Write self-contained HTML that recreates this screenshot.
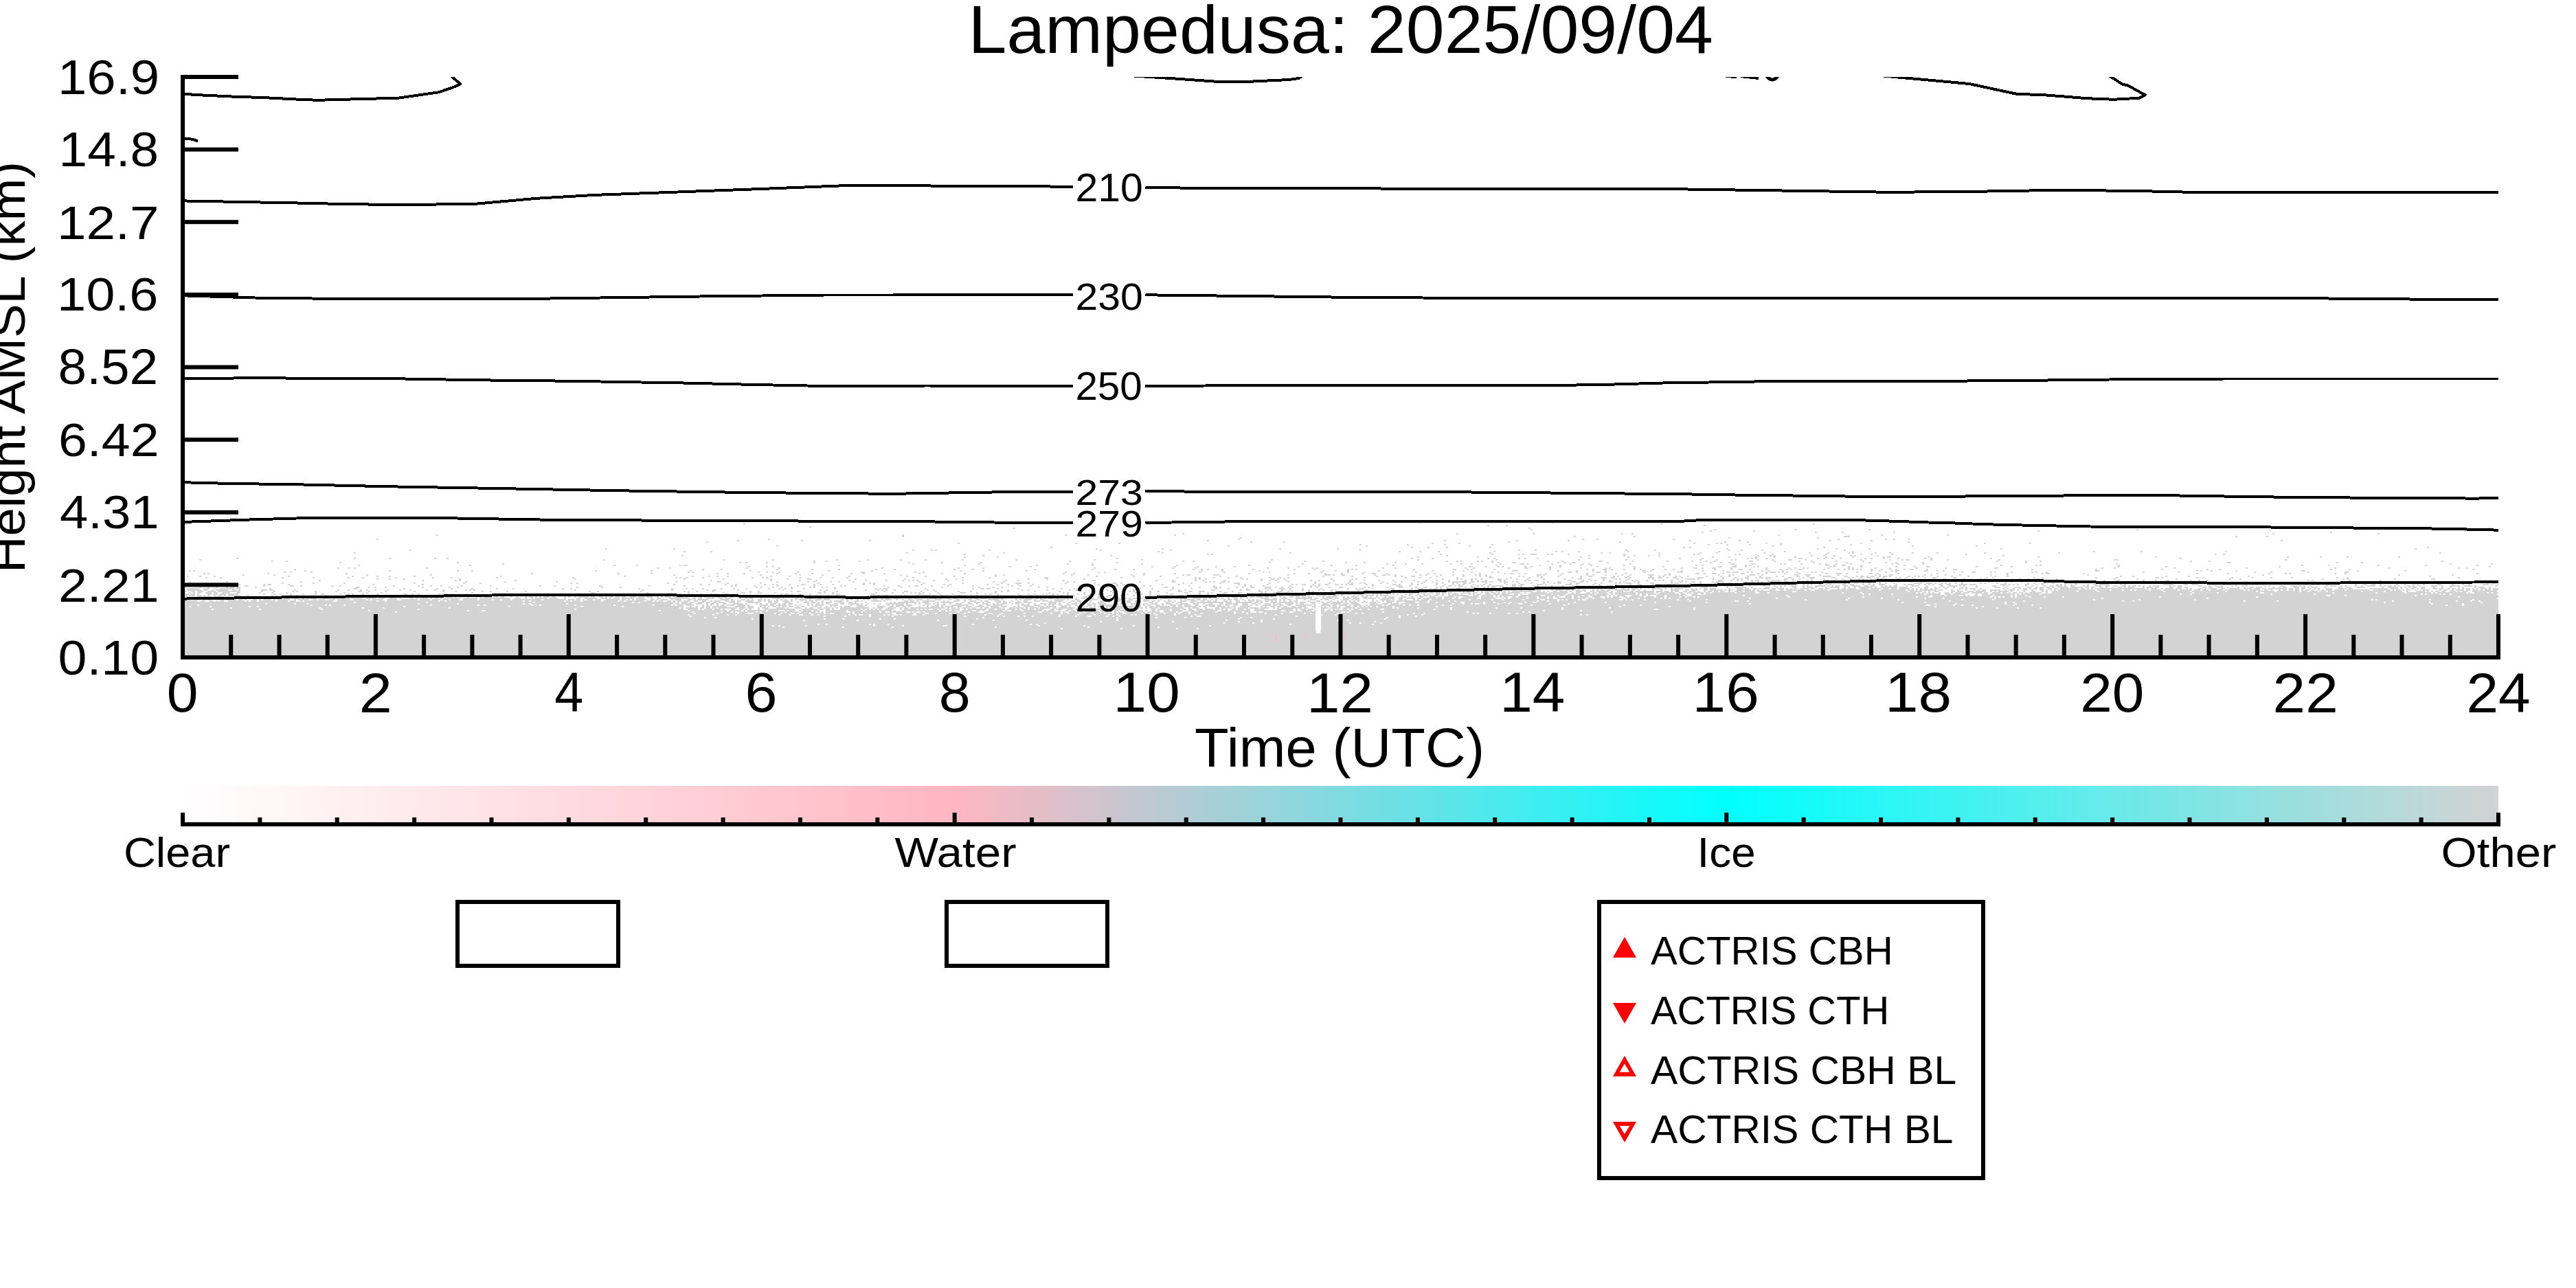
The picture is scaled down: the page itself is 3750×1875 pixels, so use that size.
<!DOCTYPE html><html><head><meta charset="utf-8"><title>Lampedusa 2025/09/04</title><style>html,body{margin:0;padding:0;background:#fff;overflow:hidden}svg{display:block}</style></head><body><svg xmlns="http://www.w3.org/2000/svg" width="3750" height="1875" viewBox="0 0 3750 1875">
<defs>
<clipPath id="pc"><rect x="266" y="112" width="3371" height="845"/></clipPath>
<linearGradient id="cb" x1="0" y1="0" x2="1" y2="0"><stop offset="0" stop-color="#ffffff"/><stop offset="0.3333" stop-color="#ffb6c1"/><stop offset="0.6667" stop-color="#00ffff"/><stop offset="1" stop-color="#d3d3d3"/></linearGradient>
</defs>
<rect width="3750" height="1875" fill="#fff"/>
<g clip-path="url(#pc)">
<path fill="#d3d3d3" d="M2066 760h3v2h-3zM2258 760h3v2h-3zM1082 762h3v2h-3zM1670 762h3v2h-3zM2417 762h3v2h-3zM2639 762h3v2h-3zM2165 764h3v2h-3zM2192 764h3v2h-3zM2480 764h3v2h-3zM1178 766h3v2h-3zM1475 768h3v2h-3zM2225 768h3v2h-3zM3623 768h3v2h-3zM2228 770h3v2h-3zM2495 770h3v2h-3zM2612 770h3v2h-3zM2720 770h3v2h-3zM3110 770h3v2h-3zM2489 772h3v2h-3zM2552 772h3v2h-3zM2966 772h3v2h-3zM3587 772h3v2h-3zM2477 774h3v2h-3zM2642 774h3v2h-3zM2681 774h3v2h-3zM2756 774h3v2h-3zM3392 774h3v2h-3zM1721 776h3v2h-3zM2120 776h3v2h-3zM2231 776h3v2h-3zM2360 776h3v2h-3zM2375 776h3v2h-3zM3308 776h3v2h-3zM3461 776h3v2h-3zM635 778h3v2h-3zM1313 778h3v2h-3zM1550 778h3v2h-3zM1709 778h3v2h-3zM2588 778h3v2h-3zM2738 778h3v2h-3zM2834 778h3v2h-3zM1313 780h3v2h-3zM2291 780h3v2h-3zM2378 780h3v2h-3zM2684 780h9v2h-9zM3254 780h3v2h-3zM3299 780h3v2h-3zM1805 782h3v2h-3zM2516 782h3v2h-3zM2645 782h3v2h-3zM548 784h3v2h-3zM1118 784h3v2h-3zM1802 784h3v2h-3zM2303 784h3v2h-3zM2324 784h3v2h-3zM2435 784h3v2h-3zM2675 784h3v2h-3zM2744 784h3v2h-3zM2756 784h3v2h-3zM2777 784h3v2h-3zM1073 786h3v2h-3zM1166 786h3v2h-3zM1265 786h3v2h-3zM1757 786h3v2h-3zM2102 786h3v2h-3zM2207 786h3v2h-3zM2282 786h3v2h-3zM2459 786h3v2h-3zM2531 786h3v2h-3zM2663 786h3v2h-3zM2723 786h3v2h-3zM3320 786h3v2h-3zM1028 788h3v2h-3zM1820 788h3v2h-3zM1868 788h3v2h-3zM2195 788h3v2h-3zM2357 788h3v2h-3zM2510 788h3v2h-3zM2543 788h3v2h-3zM2777 788h3v2h-3zM1394 790h3v2h-3zM1565 790h3v2h-3zM1628 790h3v2h-3zM2084 790h3v2h-3zM2123 790h3v2h-3zM2465 790h3v2h-3zM2498 790h3v2h-3zM2504 790h3v2h-3zM2570 790h3v2h-3zM2591 790h3v2h-3zM2708 790h3v2h-3zM2888 790h3v2h-3zM2954 790h3v2h-3zM1979 792h3v2h-3zM2048 792h3v2h-3zM2102 792h3v2h-3zM2171 792h3v2h-3zM2486 792h3v2h-3zM2513 792h3v2h-3zM2546 792h3v2h-3zM2591 792h3v2h-3zM2693 792h3v2h-3zM1130 794h3v2h-3zM1787 794h3v2h-3zM1988 794h3v2h-3zM2138 794h3v2h-3zM2579 794h3v2h-3zM2783 794h3v2h-3zM2876 794h3v2h-3zM1529 796h3v2h-3zM2054 796h3v2h-3zM2078 796h3v2h-3zM2105 796h3v2h-3zM2168 796h3v2h-3zM2450 796h3v2h-3zM2459 796h3v2h-3zM2654 796h3v2h-3zM3533 796h3v2h-3zM881 798h3v2h-3zM980 798h3v2h-3zM1595 798h3v2h-3zM1691 798h3v2h-3zM1862 798h3v2h-3zM1946 798h3v2h-3zM2513 798h3v2h-3zM2645 798h3v2h-3zM2672 798h3v2h-3zM2720 798h3v2h-3zM2912 798h3v2h-3zM3515 798h3v2h-3zM596 800h3v2h-3zM1328 800h3v2h-3zM1355 800h3v2h-3zM1361 800h3v2h-3zM1439 800h3v2h-3zM1601 800h3v2h-3zM1703 800h3v2h-3zM1979 800h3v2h-3zM2210 800h3v2h-3zM2234 800h3v2h-3zM2366 800h3v2h-3zM2408 800h3v2h-3zM2516 800h3v2h-3zM2534 800h3v2h-3zM2564 800h3v2h-3zM2684 800h3v2h-3zM995 802h3v2h-3zM1034 802h3v2h-3zM1685 802h3v2h-3zM2036 802h3v2h-3zM2066 802h3v2h-3zM2093 802h3v2h-3zM2174 802h3v2h-3zM2264 802h3v2h-3zM2273 802h3v2h-3zM2297 802h3v2h-3zM2369 802h3v2h-3zM2501 802h3v2h-3zM2597 802h3v2h-3zM2696 802h3v2h-3zM3047 802h3v2h-3zM3116 802h3v2h-3zM3239 802h3v2h-3zM515 804h3v2h-3zM1319 804h3v2h-3zM1460 804h3v2h-3zM1691 804h3v2h-3zM1877 804h3v2h-3zM2168 804h3v2h-3zM2330 804h3v2h-3zM2342 804h3v2h-3zM2414 804h3v2h-3zM2474 804h3v2h-3zM2498 804h3v2h-3zM2567 804h3v2h-3zM2633 804h3v2h-3zM2660 804h3v2h-3zM2690 804h3v2h-3zM2696 804h3v2h-3zM2729 804h3v2h-3zM2750 804h3v2h-3zM2783 804h3v2h-3zM2819 804h3v2h-3zM2888 804h3v2h-3zM2996 804h3v2h-3zM3551 804h3v2h-3zM1403 806h3v2h-3zM1757 806h3v2h-3zM1763 806h3v2h-3zM2096 806h3v2h-3zM2171 806h3v2h-3zM2210 806h3v2h-3zM2216 806h3v2h-3zM2228 806h9v2h-9zM2252 806h3v2h-3zM2258 806h3v2h-3zM2282 806h3v2h-3zM2363 806h3v2h-3zM2465 806h3v2h-3zM2471 806h3v2h-3zM2525 806h3v2h-3zM2531 806h3v2h-3zM2555 806h3v2h-3zM2579 806h3v2h-3zM2657 806h3v2h-3zM2708 806h3v2h-3zM2723 806h3v2h-3zM2753 806h3v2h-3zM2861 806h3v2h-3zM3224 806h3v2h-3zM3236 806h3v2h-3zM992 808h3v2h-3zM1430 808h3v2h-3zM1616 808h3v2h-3zM2105 808h3v2h-3zM2312 808h3v2h-3zM2363 808h3v2h-3zM2378 808h3v2h-3zM2399 808h3v2h-3zM2414 808h3v2h-3zM2558 808h3v2h-3zM2576 808h3v2h-3zM2582 808h3v2h-3zM2636 808h3v2h-3zM2654 808h3v2h-3zM2669 808h3v2h-3zM2693 808h3v2h-3zM2699 808h3v2h-3zM2732 808h3v2h-3zM2915 808h3v2h-3zM1403 810h3v2h-3zM1451 810h3v2h-3zM2063 810h3v2h-3zM2150 810h3v2h-3zM2300 810h3v2h-3zM2369 810h3v2h-3zM2492 810h3v2h-3zM2516 810h3v2h-3zM2555 810h3v2h-3zM2582 810h3v2h-3zM2612 810h3v2h-3zM2657 810h3v2h-3zM2696 810h3v2h-3zM2741 810h3v2h-3zM2747 810h6v2h-6zM2807 810h3v2h-3zM2966 810h3v2h-3zM3137 810h3v2h-3zM3329 810h3v2h-3zM3377 810h3v2h-3zM3416 810h3v2h-3zM3491 810h3v2h-3zM344 812h3v2h-3zM515 812h3v2h-3zM566 812h3v2h-3zM632 812h3v2h-3zM650 812h3v2h-3zM1625 812h3v2h-3zM2054 812h3v2h-3zM2084 812h3v2h-3zM2165 812h3v2h-3zM2174 812h3v2h-3zM2210 812h3v2h-3zM2219 812h3v2h-3zM2237 812h3v2h-3zM2312 812h3v2h-3zM2444 812h3v2h-3zM2477 812h3v2h-3zM2543 812h3v2h-3zM2549 812h3v2h-3zM2555 812h3v2h-3zM2570 812h3v2h-3zM2618 812h6v2h-6zM2645 812h3v2h-3zM2654 812h3v2h-3zM2666 812h3v2h-3zM2678 812h3v2h-3zM2714 812h3v2h-3zM2723 812h3v2h-3zM2741 812h3v2h-3zM2762 812h3v2h-3zM2801 812h3v2h-3zM2810 812h3v2h-3zM2897 812h3v2h-3zM3173 812h3v2h-3zM290 814h3v2h-3zM878 814h3v2h-3zM1052 814h3v2h-3zM1124 814h3v2h-3zM1217 814h3v2h-3zM1262 814h3v2h-3zM1310 814h3v2h-3zM1346 814h3v2h-3zM1400 814h3v2h-3zM1478 814h3v2h-3zM1592 814h3v2h-3zM1661 814h3v2h-3zM1850 814h3v2h-3zM2063 814h3v2h-3zM2177 814h3v2h-3zM2297 814h3v2h-3zM2366 814h3v2h-3zM2474 814h3v2h-3zM2498 814h3v2h-3zM2519 814h3v2h-3zM2525 814h3v2h-3zM2558 814h3v2h-3zM2579 814h3v2h-3zM2603 814h6v2h-6zM2627 814h3v2h-3zM2708 814h3v2h-3zM2750 814h3v2h-3zM2768 814h3v2h-3zM2774 814h6v2h-6zM2810 814h3v2h-3zM2834 814h3v2h-3zM2909 814h3v2h-3zM3077 814h6v2h-6zM3326 814h3v2h-3zM266 816h3v2h-3zM395 816h3v2h-3zM416 816h3v2h-3zM1184 816h3v2h-3zM1202 816h3v2h-3zM1250 816h3v2h-3zM1556 816h3v2h-3zM1721 816h3v2h-3zM1736 816h3v2h-3zM1898 816h3v2h-3zM1925 816h3v2h-3zM2105 816h3v2h-3zM2120 816h3v2h-3zM2126 816h3v2h-3zM2150 816h3v2h-3zM2156 816h3v2h-3zM2171 816h3v2h-3zM2252 816h3v2h-3zM2273 816h3v2h-3zM2327 816h6v2h-6zM2375 816h3v2h-3zM2426 816h3v2h-3zM2462 816h3v2h-3zM2483 816h3v2h-3zM2495 816h3v2h-3zM2546 816h6v2h-6zM2582 816h3v2h-3zM2618 816h3v2h-3zM2636 816h3v2h-3zM2672 816h3v2h-3zM2711 816h3v2h-3zM2906 816h3v2h-3zM2948 816h3v2h-3zM2969 816h3v2h-3zM3188 816h3v2h-3zM3215 816h3v2h-3zM3554 816h3v2h-3zM494 818h3v2h-3zM665 818h3v2h-3zM1076 818h3v2h-3zM1085 818h3v2h-3zM1115 818h3v2h-3zM1184 818h3v2h-3zM1322 818h3v2h-3zM1370 818h3v2h-3zM1427 818h3v2h-3zM1625 818h3v2h-3zM1847 818h3v2h-3zM1958 818h3v2h-3zM1985 818h3v2h-3zM2030 818h3v2h-3zM2171 818h3v2h-3zM2180 818h3v2h-3zM2201 818h6v2h-6zM2267 818h3v2h-3zM2276 818h3v2h-3zM2288 818h6v2h-6zM2339 818h3v2h-3zM2474 818h3v2h-3zM2489 818h3v2h-3zM2504 818h3v2h-3zM2516 818h3v2h-3zM2639 818h3v2h-3zM2687 818h3v2h-3zM2720 818h3v2h-3zM2744 818h3v2h-3zM2759 818h3v2h-3zM2798 818h3v2h-3zM2948 818h3v2h-3zM3242 818h6v2h-6zM3401 818h3v2h-3zM3437 818h3v2h-3zM731 820h3v2h-3zM1328 820h3v2h-3zM1424 820h3v2h-3zM1553 820h3v2h-3zM1589 820h3v2h-3zM1661 820h3v2h-3zM1895 820h3v2h-3zM2018 820h3v2h-3zM2045 820h3v2h-3zM2069 820h3v2h-3zM2111 820h3v2h-3zM2126 820h3v2h-3zM2141 820h3v2h-3zM2183 820h3v2h-3zM2213 820h6v2h-6zM2222 820h3v2h-3zM2258 820h3v2h-3zM2285 820h3v2h-3zM2303 820h3v2h-3zM2312 820h3v2h-3zM2372 820h3v2h-3zM2519 820h6v2h-6zM2549 820h6v2h-6zM2591 820h3v2h-3zM2597 820h3v2h-3zM2621 820h3v2h-3zM2648 820h3v2h-3zM2657 820h3v2h-3zM2672 820h3v2h-3zM2693 820h3v2h-3zM2753 820h3v2h-3zM2762 820h3v2h-3zM2798 820h3v2h-3zM3080 820h3v2h-3zM3566 820h3v2h-3zM3626 820h3v2h-3zM521 822h3v2h-3zM683 822h3v2h-3zM893 822h3v2h-3zM926 822h3v2h-3zM989 822h3v2h-3zM995 822h6v2h-6zM1220 822h3v2h-3zM1403 822h3v2h-3zM1508 822h3v2h-3zM1589 822h3v2h-3zM1712 822h3v2h-3zM1817 822h3v2h-3zM1937 822h3v2h-3zM1973 822h3v2h-3zM2027 822h3v2h-3zM2177 822h3v2h-3zM2240 822h3v2h-3zM2270 822h3v2h-3zM2300 822h3v2h-3zM2315 822h3v2h-3zM2363 822h3v2h-3zM2468 822h3v2h-3zM2477 822h3v2h-3zM2525 822h3v2h-3zM2540 822h3v2h-3zM2546 822h3v2h-3zM2657 822h6v2h-6zM2669 822h3v2h-3zM2681 822h6v2h-6zM2708 822h3v2h-3zM2771 822h3v2h-3zM2912 822h3v2h-3zM2963 822h3v2h-3zM2969 822h3v2h-3zM3083 822h3v2h-3zM3350 822h3v2h-3zM3389 822h3v2h-3zM3461 822h3v2h-3zM3530 822h3v2h-3zM3605 822h3v2h-3zM1088 824h3v2h-3zM1115 824h3v2h-3zM1124 824h3v2h-3zM1469 824h3v2h-3zM1499 824h3v2h-3zM1676 824h3v2h-3zM1709 824h3v2h-3zM1742 824h3v2h-3zM1769 824h3v2h-3zM1796 824h3v2h-3zM1889 824h3v2h-3zM2138 824h6v2h-6zM2162 824h3v2h-3zM2180 824h3v2h-3zM2186 824h3v2h-3zM2219 824h3v2h-3zM2228 824h3v2h-3zM2255 824h3v2h-3zM2270 824h3v2h-3zM2324 824h3v2h-3zM2378 824h3v2h-3zM2420 824h3v2h-3zM2501 824h6v2h-6zM2522 824h6v2h-6zM2540 824h3v2h-3zM2552 824h3v2h-3zM2558 824h3v2h-3zM2663 824h3v2h-3zM2669 824h3v2h-3zM2690 824h3v2h-3zM2708 824h3v2h-3zM2759 824h3v2h-3zM2786 824h3v2h-3zM2804 824h6v2h-6zM2876 824h3v2h-3zM2927 824h3v2h-3zM3083 824h3v2h-3zM3152 824h3v2h-3zM3317 824h3v2h-3zM3623 824h3v2h-3zM491 826h3v2h-3zM506 826h3v2h-3zM515 826h3v2h-3zM620 826h3v2h-3zM956 826h3v2h-3zM974 826h3v2h-3zM1085 826h3v2h-3zM1133 826h3v2h-3zM1283 826h3v2h-3zM1394 826h3v2h-3zM1430 826h3v2h-3zM1592 826h3v2h-3zM1706 826h3v2h-3zM1739 826h3v2h-3zM1844 826h3v2h-3zM1874 826h3v2h-3zM1910 826h3v2h-3zM1916 826h3v2h-3zM2012 826h3v2h-3zM2030 826h3v2h-3zM2132 826h3v2h-3zM2144 826h3v2h-3zM2195 826h3v2h-3zM2219 826h6v2h-6zM2255 826h3v2h-3zM2300 826h3v2h-3zM2336 826h3v2h-3zM2342 826h3v2h-3zM2378 826h3v2h-3zM2447 826h3v2h-3zM2465 826h6v2h-6zM2477 826h3v2h-3zM2492 826h6v2h-6zM2519 826h3v2h-3zM2570 826h3v2h-3zM2603 826h3v2h-3zM2612 826h3v2h-3zM2624 826h3v2h-3zM2630 826h3v2h-3zM2660 826h3v2h-3zM2690 826h3v2h-3zM2696 826h3v2h-3zM2729 826h3v2h-3zM2750 826h3v2h-3zM2789 826h3v2h-3zM2831 826h3v2h-3zM2903 826h6v2h-6zM3059 826h3v2h-3zM3077 826h3v2h-3zM3164 826h3v2h-3zM3269 826h3v2h-3zM3398 826h3v2h-3zM3476 826h3v2h-3zM3578 826h3v2h-3zM3590 826h3v2h-3zM428 828h3v2h-3zM1022 828h3v2h-3zM1049 828h3v2h-3zM1130 828h3v2h-3zM1181 828h3v2h-3zM1220 828h3v2h-3zM1274 828h3v2h-3zM1301 828h3v2h-3zM1388 828h3v2h-3zM1415 828h3v2h-3zM1505 828h3v2h-3zM1589 828h3v2h-3zM1622 828h3v2h-3zM1649 828h3v2h-3zM1736 828h3v2h-3zM1748 828h3v2h-3zM1757 828h3v2h-3zM1778 828h3v2h-3zM1823 828h3v2h-3zM1883 828h3v2h-3zM1913 828h3v2h-3zM1961 828h3v2h-3zM1967 828h3v2h-3zM1973 828h3v2h-3zM2057 828h3v2h-3zM2114 828h6v2h-6zM2135 828h3v2h-3zM2141 828h3v2h-3zM2174 828h3v2h-3zM2255 828h3v2h-3zM2309 828h3v2h-3zM2318 828h3v2h-3zM2333 828h6v2h-6zM2345 828h3v2h-3zM2363 828h3v2h-3zM2378 828h3v2h-3zM2387 828h3v2h-3zM2405 828h3v2h-3zM2423 828h3v2h-3zM2435 828h3v2h-3zM2495 828h3v2h-3zM2519 828h3v2h-3zM2531 828h6v2h-6zM2546 828h3v2h-3zM2570 828h3v2h-3zM2591 828h3v2h-3zM2600 828h3v2h-3zM2606 828h3v2h-3zM2618 828h6v2h-6zM2654 828h3v2h-3zM2675 828h3v2h-3zM2684 828h3v2h-3zM2690 828h3v2h-3zM2696 828h3v2h-3zM2702 828h3v2h-3zM2708 828h3v2h-3zM2723 828h3v2h-3zM2738 828h3v2h-3zM2750 828h3v2h-3zM2759 828h3v2h-3zM2771 828h3v2h-3zM2780 828h6v2h-6zM2804 828h3v2h-3zM2843 828h6v2h-6zM2957 828h3v2h-3zM3050 828h3v2h-3zM3146 828h3v2h-3zM3212 828h3v2h-3zM3230 828h3v2h-3zM3392 828h3v2h-3zM3419 828h3v2h-3zM3599 828h3v2h-3zM275 830h3v2h-3zM281 830h3v2h-3zM443 830h3v2h-3zM566 830h3v2h-3zM665 830h3v2h-3zM686 830h3v2h-3zM866 830h3v2h-3zM947 830h3v2h-3zM1004 830h3v2h-3zM1091 830h3v2h-3zM1205 830h3v2h-3zM1268 830h3v2h-3zM1397 830h3v2h-3zM1430 830h3v2h-3zM1493 830h3v2h-3zM1748 830h3v2h-3zM1778 830h3v2h-3zM1832 830h3v2h-3zM1925 830h3v2h-3zM1943 830h3v2h-3zM1961 830h3v2h-3zM2006 830h3v2h-3zM2084 830h3v2h-3zM2129 830h3v2h-3zM2201 830h9v2h-9zM2267 830h3v2h-3zM2294 830h3v2h-3zM2318 830h3v2h-3zM2336 830h3v2h-3zM2390 830h6v2h-6zM2402 830h3v2h-3zM2447 830h3v2h-3zM2477 830h3v2h-3zM2507 830h3v2h-3zM2564 830h3v2h-3zM2573 830h3v2h-3zM2594 830h3v2h-3zM2723 830h3v2h-3zM2735 830h3v2h-3zM2753 830h3v2h-3zM2759 830h6v2h-6zM2801 830h6v2h-6zM2819 830h3v2h-3zM2828 830h3v2h-3zM3050 830h6v2h-6zM3197 830h3v2h-3zM3203 830h3v2h-3zM3218 830h3v2h-3zM3254 830h3v2h-3zM3350 830h6v2h-6zM3431 830h3v2h-3zM3500 830h3v2h-3zM413 832h3v2h-3zM422 832h3v2h-3zM452 832h3v2h-3zM1001 832h3v2h-3zM1007 832h3v2h-3zM1103 832h3v2h-3zM1115 832h3v2h-3zM1124 832h3v2h-3zM1133 832h3v2h-3zM1160 832h3v2h-3zM1253 832h6v2h-6zM1331 832h3v2h-3zM1343 832h3v2h-3zM1550 832h3v2h-3zM1598 832h3v2h-3zM1607 832h3v2h-3zM1745 832h3v2h-3zM1781 832h3v2h-3zM1838 832h3v2h-3zM1847 832h3v2h-3zM1922 832h3v2h-3zM1961 832h3v2h-3zM1985 832h3v2h-3zM2060 832h3v2h-3zM2114 832h3v2h-3zM2141 832h3v2h-3zM2171 832h3v2h-3zM2180 832h3v2h-3zM2282 832h6v2h-6zM2294 832h3v2h-3zM2324 832h6v2h-6zM2336 832h3v2h-3zM2393 832h3v2h-3zM2441 832h9v2h-9zM2513 832h6v2h-6zM2522 832h9v2h-9zM2543 832h3v2h-3zM2549 832h3v2h-3zM2570 832h3v2h-3zM2576 832h9v2h-9zM2588 832h3v2h-3zM2594 832h3v2h-3zM2600 832h3v2h-3zM2615 832h3v2h-3zM2636 832h3v2h-3zM2642 832h3v2h-3zM2651 832h3v2h-3zM2702 832h3v2h-3zM2744 832h3v2h-3zM2759 832h3v2h-3zM2843 832h3v2h-3zM2855 832h3v2h-3zM2870 832h6v2h-6zM2897 832h3v2h-3zM2903 832h3v2h-3zM2927 832h3v2h-3zM2957 832h3v2h-3zM2963 832h3v2h-3zM2978 832h3v2h-3zM3119 832h3v2h-3zM3170 832h3v2h-3zM3281 832h3v2h-3zM3305 832h3v2h-3zM3359 832h3v2h-3zM3413 832h6v2h-6zM296 834h3v2h-3zM302 834h3v2h-3zM389 834h3v2h-3zM503 834h3v2h-3zM773 834h3v2h-3zM899 834h3v2h-3zM947 834h3v2h-3zM1043 834h3v2h-3zM1058 834h3v2h-3zM1082 834h3v2h-3zM1130 834h3v2h-3zM1157 834h3v2h-3zM1181 834h3v2h-3zM1238 834h3v2h-3zM1256 834h3v2h-3zM1286 834h3v2h-3zM1337 834h3v2h-3zM1370 834h3v2h-3zM1403 834h3v2h-3zM1547 834h3v2h-3zM1562 834h3v2h-3zM1664 834h3v2h-3zM1709 834h3v2h-3zM1817 834h3v2h-3zM1883 834h3v2h-3zM1904 834h3v2h-3zM1928 834h3v2h-3zM1952 834h3v2h-3zM1982 834h3v2h-3zM1997 834h6v2h-6zM2018 834h3v2h-3zM2078 834h3v2h-3zM2087 834h3v2h-3zM2153 834h3v2h-3zM2189 834h3v2h-3zM2198 834h6v2h-6zM2210 834h3v2h-3zM2219 834h3v2h-3zM2249 834h3v2h-3zM2273 834h3v2h-3zM2309 834h3v2h-3zM2351 834h3v2h-3zM2366 834h3v2h-3zM2429 834h3v2h-3zM2468 834h6v2h-6zM2480 834h3v2h-3zM2492 834h6v2h-6zM2507 834h3v2h-3zM2534 834h6v2h-6zM2558 834h3v2h-3zM2570 834h3v2h-3zM2597 834h3v2h-3zM2618 834h3v2h-3zM2657 834h3v2h-3zM2672 834h9v2h-9zM2687 834h3v2h-3zM2720 834h6v2h-6zM2732 834h3v2h-3zM2762 834h3v2h-3zM2819 834h3v2h-3zM2921 834h3v2h-3zM2972 834h3v2h-3zM2978 834h6v2h-6zM3032 834h3v2h-3zM3197 834h3v2h-3zM3242 834h3v2h-3zM3302 834h3v2h-3zM3326 834h3v2h-3zM3332 834h3v2h-3zM3398 834h3v2h-3zM3413 834h3v2h-3zM3605 834h3v2h-3zM353 836h3v2h-3zM398 836h3v2h-3zM533 836h3v2h-3zM626 836h3v2h-3zM980 836h3v2h-3zM1106 836h3v2h-3zM1163 836h3v2h-3zM1196 836h3v2h-3zM1310 836h3v2h-3zM1448 836h3v2h-3zM1460 836h3v2h-3zM1559 836h3v2h-3zM1583 836h3v2h-3zM1646 836h3v2h-3zM1664 836h3v2h-3zM1721 836h3v2h-3zM1727 836h6v2h-6zM1766 836h9v2h-9zM1874 836h3v2h-3zM1928 836h9v2h-9zM1940 836h3v2h-3zM1952 836h6v2h-6zM2000 836h3v2h-3zM2012 836h6v2h-6zM2021 836h3v2h-3zM2030 836h3v2h-3zM2066 836h3v2h-3zM2075 836h3v2h-3zM2096 836h3v2h-3zM2114 836h3v2h-3zM2129 836h3v2h-3zM2147 836h3v2h-3zM2153 836h3v2h-3zM2162 836h3v2h-3zM2237 836h6v2h-6zM2246 836h3v2h-3zM2270 836h3v2h-3zM2309 836h3v2h-3zM2318 836h3v2h-3zM2336 836h3v2h-3zM2360 836h3v2h-3zM2372 836h3v2h-3zM2399 836h9v2h-9zM2423 836h3v2h-3zM2429 836h3v2h-3zM2501 836h3v2h-3zM2516 836h3v2h-3zM2522 836h3v2h-3zM2546 836h9v2h-9zM2564 836h3v2h-3zM2612 836h6v2h-6zM2627 836h9v2h-9zM2648 836h3v2h-3zM2675 836h3v2h-3zM2729 836h3v2h-3zM2735 836h3v2h-3zM2750 836h6v2h-6zM2801 836h3v2h-3zM2810 836h3v2h-3zM2831 836h3v2h-3zM2852 836h3v2h-3zM2897 836h3v2h-3zM2921 836h3v2h-3zM3038 836h3v2h-3zM3293 836h3v2h-3zM3491 836h3v2h-3zM3569 836h3v2h-3zM272 838h3v2h-3zM290 838h3v2h-3zM311 838h3v2h-3zM419 838h3v2h-3zM512 838h3v2h-3zM548 838h3v2h-3zM566 838h3v2h-3zM602 838h3v2h-3zM728 838h3v2h-3zM908 838h3v2h-3zM1007 838h3v2h-3zM1031 838h3v2h-3zM1043 838h3v2h-3zM1058 838h3v2h-3zM1121 838h3v2h-3zM1148 838h3v2h-3zM1235 838h3v2h-3zM1319 838h3v2h-3zM1346 838h3v2h-3zM1388 838h3v2h-3zM1448 838h3v2h-3zM1595 838h3v2h-3zM1649 838h3v2h-3zM1688 838h3v2h-3zM1775 838h3v2h-3zM1799 838h3v2h-3zM1925 838h3v2h-3zM1967 838h3v2h-3zM2003 838h3v2h-3zM2030 838h3v2h-3zM2039 838h3v2h-3zM2054 838h6v2h-6zM2090 838h3v2h-3zM2129 838h3v2h-3zM2153 838h3v2h-3zM2162 838h3v2h-3zM2168 838h3v2h-3zM2210 838h3v2h-3zM2216 838h3v2h-3zM2237 838h3v2h-3zM2243 838h3v2h-3zM2267 838h3v2h-3zM2300 838h3v2h-3zM2312 838h6v2h-6zM2348 838h3v2h-3zM2354 838h3v2h-3zM2369 838h3v2h-3zM2402 838h3v2h-3zM2414 838h3v2h-3zM2420 838h3v2h-3zM2438 838h3v2h-3zM2444 838h3v2h-3zM2456 838h3v2h-3zM2483 838h3v2h-3zM2504 838h3v2h-3zM2516 838h3v2h-3zM2543 838h3v2h-3zM2561 838h3v2h-3zM2585 838h3v2h-3zM2594 838h3v2h-3zM2615 838h6v2h-6zM2630 838h3v2h-3zM2654 838h12v2h-12zM2684 838h6v2h-6zM2702 838h3v2h-3zM2708 838h6v2h-6zM2717 838h3v2h-3zM2723 838h6v2h-6zM2735 838h3v2h-3zM2741 838h6v2h-6zM2750 838h3v2h-3zM2777 838h3v2h-3zM2786 838h3v2h-3zM2792 838h3v2h-3zM2798 838h3v2h-3zM2819 838h3v2h-3zM2840 838h3v2h-3zM2864 838h3v2h-3zM2903 838h3v2h-3zM2921 838h3v2h-3zM3086 838h3v2h-3zM3104 838h3v2h-3zM3152 838h3v2h-3zM3185 838h3v2h-3zM3272 838h3v2h-3zM3536 838h3v2h-3zM299 840h3v2h-3zM320 840h3v2h-3zM410 840h3v2h-3zM455 840h3v2h-3zM506 840h3v2h-3zM527 840h3v2h-3zM575 840h3v2h-3zM629 840h3v2h-3zM656 840h3v2h-3zM722 840h3v2h-3zM833 840h3v2h-3zM983 840h3v2h-3zM989 840h3v2h-3zM998 840h3v2h-3zM1022 840h3v2h-3zM1094 840h3v2h-3zM1109 840h3v2h-3zM1115 840h3v2h-3zM1163 840h3v2h-3zM1193 840h3v2h-3zM1211 840h3v2h-3zM1232 840h3v2h-3zM1328 840h3v2h-3zM1400 840h3v2h-3zM1439 840h3v2h-3zM1520 840h6v2h-6zM1631 840h3v2h-3zM1712 840h3v2h-3zM1739 840h3v2h-3zM1745 840h3v2h-3zM1766 840h3v2h-3zM1787 840h3v2h-3zM1805 840h3v2h-3zM1847 840h3v2h-3zM1862 840h3v2h-3zM1874 840h3v2h-3zM1985 840h3v2h-3zM2045 840h3v2h-3zM2066 840h3v2h-3zM2081 840h3v2h-3zM2120 840h3v2h-3zM2168 840h6v2h-6zM2198 840h3v2h-3zM2225 840h3v2h-3zM2243 840h3v2h-3zM2288 840h3v2h-3zM2300 840h3v2h-3zM2330 840h9v2h-9zM2345 840h6v2h-6zM2366 840h3v2h-3zM2372 840h3v2h-3zM2399 840h9v2h-9zM2414 840h6v2h-6zM2426 840h3v2h-3zM2435 840h6v2h-6zM2447 840h3v2h-3zM2471 840h9v2h-9zM2507 840h3v2h-3zM2525 840h3v2h-3zM2540 840h6v2h-6zM2555 840h3v2h-3zM2561 840h6v2h-6zM2570 840h9v2h-9zM2603 840h6v2h-6zM2624 840h3v2h-3zM2633 840h9v2h-9zM2666 840h6v2h-6zM2690 840h3v2h-3zM2696 840h3v2h-3zM2708 840h3v2h-3zM2717 840h6v2h-6zM2732 840h3v2h-3zM2741 840h3v2h-3zM2759 840h3v2h-3zM2765 840h3v2h-3zM2774 840h3v2h-3zM2783 840h3v2h-3zM2801 840h3v2h-3zM2813 840h6v2h-6zM2843 840h6v2h-6zM2891 840h3v2h-3zM2900 840h3v2h-3zM2960 840h3v2h-3zM2972 840h3v2h-3zM3050 840h3v2h-3zM3080 840h3v2h-3zM3137 840h6v2h-6zM3146 840h3v2h-3zM3197 840h3v2h-3zM3206 840h3v2h-3zM3248 840h3v2h-3zM3278 840h3v2h-3zM3305 840h3v2h-3zM3335 840h3v2h-3zM3401 840h3v2h-3zM3416 840h3v2h-3zM3578 840h3v2h-3zM548 842h3v2h-3zM566 842h3v2h-3zM587 842h3v2h-3zM668 842h3v2h-3zM836 842h3v2h-3zM995 842h3v2h-3zM1052 842h3v2h-3zM1121 842h3v2h-3zM1145 842h3v2h-3zM1175 842h6v2h-6zM1244 842h3v2h-3zM1316 842h3v2h-3zM1376 842h3v2h-3zM1391 842h3v2h-3zM1496 842h3v2h-3zM1523 842h3v2h-3zM1577 842h3v2h-3zM1739 842h3v2h-3zM1745 842h3v2h-3zM1754 842h3v2h-3zM1808 842h3v2h-3zM1814 842h3v2h-3zM1835 842h3v2h-3zM1850 842h6v2h-6zM1859 842h3v2h-3zM1868 842h3v2h-3zM1937 842h3v2h-3zM1967 842h3v2h-3zM1973 842h3v2h-3zM2099 842h3v2h-3zM2120 842h3v2h-3zM2126 842h3v2h-3zM2141 842h3v2h-3zM2147 842h3v2h-3zM2156 842h3v2h-3zM2180 842h6v2h-6zM2192 842h3v2h-3zM2207 842h3v2h-3zM2222 842h3v2h-3zM2246 842h3v2h-3zM2276 842h3v2h-3zM2297 842h6v2h-6zM2312 842h3v2h-3zM2333 842h3v2h-3zM2351 842h3v2h-3zM2357 842h3v2h-3zM2369 842h3v2h-3zM2405 842h3v2h-3zM2441 842h3v2h-3zM2453 842h15v2h-15zM2471 842h3v2h-3zM2492 842h3v2h-3zM2507 842h3v2h-3zM2522 842h3v2h-3zM2528 842h3v2h-3zM2534 842h3v2h-3zM2543 842h3v2h-3zM2570 842h3v2h-3zM2597 842h6v2h-6zM2609 842h3v2h-3zM2618 842h3v2h-3zM2636 842h3v2h-3zM2654 842h3v2h-3zM2672 842h3v2h-3zM2681 842h3v2h-3zM2693 842h3v2h-3zM2705 842h3v2h-3zM2711 842h3v2h-3zM2723 842h3v2h-3zM2729 842h6v2h-6zM2738 842h3v2h-3zM2744 842h3v2h-3zM2762 842h3v2h-3zM2771 842h3v2h-3zM2786 842h3v2h-3zM2813 842h3v2h-3zM2828 842h6v2h-6zM2858 842h3v2h-3zM2882 842h3v2h-3zM2888 842h3v2h-3zM2939 842h3v2h-3zM2951 842h3v2h-3zM2966 842h3v2h-3zM2993 842h3v2h-3zM3077 842h3v2h-3zM3110 842h3v2h-3zM3167 842h3v2h-3zM3245 842h3v2h-3zM3260 842h3v2h-3zM3380 842h3v2h-3zM3410 842h3v2h-3zM3416 842h3v2h-3zM3485 842h3v2h-3zM3539 842h6v2h-6zM464 844h3v2h-3zM614 844h3v2h-3zM662 844h3v2h-3zM668 844h3v2h-3zM749 844h3v2h-3zM1034 844h3v2h-3zM1121 844h3v2h-3zM1163 844h3v2h-3zM1187 844h3v2h-3zM1235 844h3v2h-3zM1259 844h3v2h-3zM1289 844h3v2h-3zM1313 844h3v2h-3zM1322 844h3v2h-3zM1328 844h3v2h-3zM1334 844h3v2h-3zM1358 844h3v2h-3zM1379 844h3v2h-3zM1400 844h3v2h-3zM1463 844h3v2h-3zM1481 844h3v2h-3zM1547 844h3v2h-3zM1589 844h6v2h-6zM1682 844h3v2h-3zM1706 844h3v2h-3zM1739 844h3v2h-3zM1751 844h3v2h-3zM1781 844h3v2h-3zM1835 844h3v2h-3zM1847 844h3v2h-3zM1856 844h3v2h-3zM1871 844h3v2h-3zM1907 844h3v2h-3zM1919 844h3v2h-3zM1940 844h3v2h-3zM1964 844h3v2h-3zM1985 844h3v2h-3zM2006 844h3v2h-3zM2027 844h3v2h-3zM2057 844h3v2h-3zM2075 844h3v2h-3zM2090 844h3v2h-3zM2108 844h3v2h-3zM2132 844h3v2h-3zM2141 844h3v2h-3zM2150 844h3v2h-3zM2162 844h3v2h-3zM2180 844h6v2h-6zM2189 844h3v2h-3zM2219 844h3v2h-3zM2225 844h3v2h-3zM2234 844h6v2h-6zM2282 844h6v2h-6zM2303 844h3v2h-3zM2315 844h3v2h-3zM2321 844h3v2h-3zM2333 844h3v2h-3zM2342 844h3v2h-3zM2366 844h3v2h-3zM2375 844h3v2h-3zM2381 844h3v2h-3zM2396 844h3v2h-3zM2408 844h3v2h-3zM2414 844h3v2h-3zM2420 844h3v2h-3zM2432 844h3v2h-3zM2447 844h3v2h-3zM2501 844h6v2h-6zM2519 844h3v2h-3zM2528 844h3v2h-3zM2534 844h3v2h-3zM2549 844h3v2h-3zM2555 844h6v2h-6zM2573 844h3v2h-3zM2579 844h12v2h-12zM2597 844h3v2h-3zM2609 844h3v2h-3zM2630 844h3v2h-3zM2636 844h3v2h-3zM2657 844h6v2h-6zM2669 844h3v2h-3zM2675 844h3v2h-3zM2684 844h3v2h-3zM2696 844h3v2h-3zM2714 844h3v2h-3zM2723 844h3v2h-3zM2738 844h12v2h-12zM2759 844h3v2h-3zM2768 844h3v2h-3zM2780 844h3v2h-3zM2792 844h3v2h-3zM2798 844h3v2h-3zM2807 844h3v2h-3zM2813 844h3v2h-3zM2831 844h6v2h-6zM2840 844h3v2h-3zM2849 844h3v2h-3zM2855 844h6v2h-6zM2867 844h3v2h-3zM2873 844h3v2h-3zM2882 844h3v2h-3zM2888 844h3v2h-3zM2903 844h3v2h-3zM2912 844h9v2h-9zM2957 844h3v2h-3zM2969 844h3v2h-3zM3023 844h3v2h-3zM3050 844h3v2h-3zM3062 844h3v2h-3zM3080 844h6v2h-6zM3119 844h3v2h-3zM3137 844h3v2h-3zM3152 844h6v2h-6zM3188 844h3v2h-3zM3200 844h3v2h-3zM3212 844h3v2h-3zM3359 844h3v2h-3zM3365 844h3v2h-3zM3419 844h3v2h-3zM3464 844h3v2h-3zM275 846h3v2h-3zM329 846h3v2h-3zM437 846h3v2h-3zM677 846h3v2h-3zM734 846h3v2h-3zM809 846h3v2h-3zM983 846h3v2h-3zM1043 846h6v2h-6zM1130 846h3v2h-3zM1175 846h3v2h-3zM1184 846h3v2h-3zM1208 846h3v2h-3zM1220 846h3v2h-3zM1241 846h3v2h-3zM1337 846h3v2h-3zM1445 846h3v2h-3zM1460 846h3v2h-3zM1553 846h3v2h-3zM1562 846h3v2h-3zM1658 846h3v2h-3zM1706 846h6v2h-6zM1754 846h3v2h-3zM1760 846h3v2h-3zM1766 846h3v2h-3zM1778 846h6v2h-6zM1787 846h3v2h-3zM1859 846h3v2h-3zM1874 846h3v2h-3zM1913 846h3v2h-3zM1964 846h3v2h-3zM2012 846h3v2h-3zM2030 846h3v2h-3zM2039 846h3v2h-3zM2063 846h3v2h-3zM2072 846h3v2h-3zM2084 846h3v2h-3zM2108 846h3v2h-3zM2114 846h21v2h-21zM2141 846h6v2h-6zM2150 846h3v2h-3zM2156 846h9v2h-9zM2168 846h6v2h-6zM2183 846h3v2h-3zM2189 846h6v2h-6zM2201 846h3v2h-3zM2207 846h3v2h-3zM2246 846h3v2h-3zM2252 846h3v2h-3zM2267 846h6v2h-6zM2288 846h6v2h-6zM2300 846h6v2h-6zM2309 846h3v2h-3zM2342 846h6v2h-6zM2357 846h3v2h-3zM2363 846h3v2h-3zM2378 846h3v2h-3zM2384 846h3v2h-3zM2432 846h3v2h-3zM2444 846h6v2h-6zM2453 846h3v2h-3zM2462 846h6v2h-6zM2474 846h3v2h-3zM2492 846h3v2h-3zM2498 846h12v2h-12zM2540 846h3v2h-3zM2549 846h3v2h-3zM2558 846h3v2h-3zM2564 846h3v2h-3zM2573 846h6v2h-6zM2600 846h3v2h-3zM2612 846h3v2h-3zM2630 846h3v2h-3zM2636 846h3v2h-3zM2642 846h9v2h-9zM2675 846h3v2h-3zM2690 846h3v2h-3zM2702 846h3v2h-3zM2714 846h3v2h-3zM2735 846h3v2h-3zM2753 846h3v2h-3zM2762 846h3v2h-3zM2780 846h6v2h-6zM2795 846h9v2h-9zM2822 846h3v2h-3zM2855 846h3v2h-3zM2879 846h3v2h-3zM2894 846h3v2h-3zM2909 846h3v2h-3zM2918 846h3v2h-3zM2927 846h3v2h-3zM2942 846h3v2h-3zM2963 846h3v2h-3zM2984 846h3v2h-3zM2990 846h3v2h-3zM3002 846h3v2h-3zM3011 846h3v2h-3zM3017 846h3v2h-3zM3050 846h6v2h-6zM3089 846h3v2h-3zM3173 846h3v2h-3zM3179 846h3v2h-3zM3269 846h3v2h-3zM3368 846h3v2h-3zM3416 846h3v2h-3zM3494 846h3v2h-3zM3569 846h3v2h-3zM3575 846h3v2h-3zM3590 846h3v2h-3zM3605 846h6v2h-6zM323 848h3v2h-3zM410 848h3v2h-3zM455 848h3v2h-3zM500 848h3v2h-3zM602 848h3v2h-3zM674 848h3v2h-3zM698 848h3v2h-3zM830 848h3v2h-3zM839 848h3v2h-3zM971 848h3v2h-3zM1058 848h3v2h-3zM1106 848h3v2h-3zM1190 848h3v2h-3zM1256 848h3v2h-3zM1265 848h3v2h-3zM1271 848h3v2h-3zM1343 848h3v2h-3zM1400 848h3v2h-3zM1457 848h3v2h-3zM1478 848h9v2h-9zM1496 848h3v2h-3zM1550 848h3v2h-3zM1592 848h3v2h-3zM1619 848h6v2h-6zM1631 848h3v2h-3zM1721 848h3v2h-3zM1733 848h3v2h-3zM1775 848h3v2h-3zM1796 848h9v2h-9zM1847 848h3v2h-3zM1913 848h3v2h-3zM1934 848h3v2h-3zM1961 848h3v2h-3zM1967 848h3v2h-3zM1979 848h3v2h-3zM1985 848h3v2h-3zM2009 848h3v2h-3zM2018 848h3v2h-3zM2054 848h3v2h-3zM2069 848h3v2h-3zM2090 848h3v2h-3zM2099 848h3v2h-3zM2114 848h3v2h-3zM2120 848h3v2h-3zM2129 848h6v2h-6zM2138 848h3v2h-3zM2162 848h3v2h-3zM2189 848h3v2h-3zM2210 848h3v2h-3zM2228 848h3v2h-3zM2246 848h3v2h-3zM2261 848h3v2h-3zM2267 848h6v2h-6zM2285 848h3v2h-3zM2294 848h6v2h-6zM2321 848h3v2h-3zM2330 848h3v2h-3zM2351 848h3v2h-3zM2357 848h3v2h-3zM2366 848h9v2h-9zM2384 848h3v2h-3zM2402 848h6v2h-6zM2432 848h3v2h-3zM2438 848h6v2h-6zM2459 848h3v2h-3zM2474 848h3v2h-3zM2495 848h9v2h-9zM2507 848h3v2h-3zM2516 848h6v2h-6zM2528 848h3v2h-3zM2534 848h6v2h-6zM2543 848h3v2h-3zM2558 848h3v2h-3zM2564 848h3v2h-3zM2576 848h3v2h-3zM2582 848h6v2h-6zM2591 848h3v2h-3zM2597 848h3v2h-3zM2603 848h3v2h-3zM2609 848h3v2h-3zM2630 848h3v2h-3zM2636 848h3v2h-3zM2645 848h6v2h-6zM2660 848h6v2h-6zM2684 848h3v2h-3zM2690 848h3v2h-3zM2699 848h6v2h-6zM2711 848h3v2h-3zM2720 848h3v2h-3zM2735 848h3v2h-3zM2744 848h3v2h-3zM2756 848h3v2h-3zM2786 848h12v2h-12zM2804 848h9v2h-9zM2816 848h3v2h-3zM2825 848h3v2h-3zM2831 848h3v2h-3zM2837 848h3v2h-3zM2846 848h3v2h-3zM2855 848h3v2h-3zM2882 848h3v2h-3zM2888 848h3v2h-3zM2906 848h3v2h-3zM2918 848h3v2h-3zM2951 848h3v2h-3zM2960 848h3v2h-3zM2972 848h6v2h-6zM2987 848h3v2h-3zM3020 848h3v2h-3zM3056 848h3v2h-3zM3062 848h6v2h-6zM3080 848h3v2h-3zM3089 848h3v2h-3zM3095 848h3v2h-3zM3113 848h3v2h-3zM3119 848h6v2h-6zM3149 848h6v2h-6zM3158 848h3v2h-3zM3191 848h6v2h-6zM3209 848h3v2h-3zM3215 848h6v2h-6zM3236 848h3v2h-3zM3242 848h3v2h-3zM3290 848h3v2h-3zM3296 848h3v2h-3zM3332 848h3v2h-3zM3383 848h3v2h-3zM3389 848h3v2h-3zM3413 848h3v2h-3zM3419 848h3v2h-3zM3434 848h6v2h-6zM3446 848h6v2h-6zM3455 848h3v2h-3zM3461 848h6v2h-6zM3482 848h3v2h-3zM3494 848h3v2h-3zM3500 848h3v2h-3zM3512 848h3v2h-3zM3536 848h6v2h-6zM3560 848h3v2h-3zM3566 848h3v2h-3zM3587 848h3v2h-3zM3593 848h3v2h-3zM3620 848h3v2h-3zM3629 848h3v2h-3zM320 850h3v2h-3zM347 850h3v2h-3zM383 850h3v2h-3zM389 850h6v2h-6zM419 850h3v2h-3zM542 850h3v2h-3zM614 850h3v2h-3zM980 850h3v2h-3zM1019 850h3v2h-3zM1031 850h3v2h-3zM1055 850h3v2h-3zM1070 850h3v2h-3zM1112 850h3v2h-3zM1124 850h3v2h-3zM1130 850h3v2h-3zM1148 850h3v2h-3zM1166 850h6v2h-6zM1184 850h3v2h-3zM1193 850h3v2h-3zM1211 850h3v2h-3zM1256 850h3v2h-3zM1271 850h3v2h-3zM1340 850h3v2h-3zM1373 850h3v2h-3zM1382 850h3v2h-3zM1436 850h3v2h-3zM1451 850h3v2h-3zM1466 850h3v2h-3zM1481 850h3v2h-3zM1502 850h3v2h-3zM1598 850h3v2h-3zM1625 850h3v2h-3zM1634 850h3v2h-3zM1691 850h3v2h-3zM1715 850h3v2h-3zM1802 850h3v2h-3zM1811 850h3v2h-3zM1844 850h3v2h-3zM1880 850h3v2h-3zM1886 850h3v2h-3zM1895 850h6v2h-6zM1910 850h3v2h-3zM1919 850h3v2h-3zM1928 850h6v2h-6zM1943 850h6v2h-6zM1952 850h3v2h-3zM1958 850h3v2h-3zM1964 850h6v2h-6zM1988 850h3v2h-3zM1997 850h3v2h-3zM2027 850h6v2h-6zM2036 850h3v2h-3zM2054 850h3v2h-3zM2063 850h3v2h-3zM2090 850h3v2h-3zM2102 850h3v2h-3zM2114 850h3v2h-3zM2123 850h3v2h-3zM2129 850h3v2h-3zM2144 850h3v2h-3zM2159 850h3v2h-3zM2168 850h3v2h-3zM2192 850h3v2h-3zM2201 850h6v2h-6zM2213 850h6v2h-6zM2237 850h9v2h-9zM2249 850h3v2h-3zM2279 850h9v2h-9zM2294 850h3v2h-3zM2318 850h3v2h-3zM2327 850h3v2h-3zM2351 850h3v2h-3zM2372 850h3v2h-3zM2384 850h6v2h-6zM2405 850h3v2h-3zM2411 850h6v2h-6zM2426 850h6v2h-6zM2435 850h3v2h-3zM2456 850h3v2h-3zM2468 850h3v2h-3zM2474 850h6v2h-6zM2486 850h3v2h-3zM2492 850h3v2h-3zM2498 850h3v2h-3zM2510 850h9v2h-9zM2525 850h3v2h-3zM2549 850h6v2h-6zM2567 850h3v2h-3zM2576 850h9v2h-9zM2588 850h3v2h-3zM2594 850h6v2h-6zM2603 850h3v2h-3zM2615 850h3v2h-3zM2624 850h3v2h-3zM2630 850h3v2h-3zM2636 850h3v2h-3zM2648 850h3v2h-3zM2657 850h3v2h-3zM2663 850h3v2h-3zM2681 850h6v2h-6zM2693 850h6v2h-6zM2711 850h3v2h-3zM2720 850h3v2h-3zM2726 850h3v2h-3zM2735 850h9v2h-9zM2759 850h3v2h-3zM2771 850h3v2h-3zM2777 850h9v2h-9zM2792 850h3v2h-3zM2801 850h3v2h-3zM2807 850h3v2h-3zM2813 850h3v2h-3zM2822 850h6v2h-6zM2834 850h6v2h-6zM2852 850h12v2h-12zM2867 850h9v2h-9zM2912 850h9v2h-9zM2924 850h3v2h-3zM2930 850h3v2h-3zM2936 850h3v2h-3zM2948 850h6v2h-6zM2963 850h3v2h-3zM2972 850h3v2h-3zM2993 850h3v2h-3zM2999 850h3v2h-3zM3005 850h3v2h-3zM3014 850h3v2h-3zM3020 850h3v2h-3zM3038 850h3v2h-3zM3047 850h6v2h-6zM3056 850h15v2h-15zM3086 850h3v2h-3zM3092 850h3v2h-3zM3149 850h15v2h-15zM3179 850h6v2h-6zM3191 850h9v2h-9zM3221 850h3v2h-3zM3236 850h3v2h-3zM3242 850h6v2h-6zM3254 850h3v2h-3zM3266 850h6v2h-6zM3278 850h3v2h-3zM3284 850h3v2h-3zM3293 850h3v2h-3zM3356 850h3v2h-3zM3365 850h3v2h-3zM3371 850h6v2h-6zM3386 850h6v2h-6zM3404 850h3v2h-3zM3428 850h3v2h-3zM3440 850h6v2h-6zM3452 850h6v2h-6zM3464 850h3v2h-3zM3488 850h3v2h-3zM3500 850h3v2h-3zM3512 850h3v2h-3zM3518 850h3v2h-3zM3527 850h3v2h-3zM3548 850h6v2h-6zM3569 850h3v2h-3zM3584 850h3v2h-3zM3593 850h3v2h-3zM3614 850h9v2h-9zM3626 850h3v2h-3zM3635 850h2v2h-2zM269 852h3v2h-3zM284 852h3v2h-3zM293 852h3v2h-3zM305 852h3v2h-3zM338 852h3v2h-3zM356 852h6v2h-6zM383 852h3v2h-3zM422 852h6v2h-6zM437 852h3v2h-3zM482 852h3v2h-3zM494 852h3v2h-3zM572 852h3v2h-3zM608 852h3v2h-3zM626 852h3v2h-3zM641 852h3v2h-3zM671 852h3v2h-3zM713 852h3v2h-3zM785 852h3v2h-3zM806 852h3v2h-3zM872 852h3v2h-3zM944 852h3v2h-3zM995 852h3v2h-3zM1064 852h3v2h-3zM1070 852h3v2h-3zM1097 852h3v2h-3zM1130 852h3v2h-3zM1160 852h3v2h-3zM1184 852h3v2h-3zM1223 852h3v2h-3zM1229 852h3v2h-3zM1286 852h3v2h-3zM1307 852h3v2h-3zM1322 852h3v2h-3zM1331 852h6v2h-6zM1355 852h3v2h-3zM1379 852h3v2h-3zM1415 852h3v2h-3zM1472 852h3v2h-3zM1484 852h3v2h-3zM1499 852h3v2h-3zM1625 852h3v2h-3zM1637 852h3v2h-3zM1664 852h3v2h-3zM1673 852h3v2h-3zM1730 852h3v2h-3zM1766 852h3v2h-3zM1811 852h3v2h-3zM1820 852h3v2h-3zM1838 852h3v2h-3zM1877 852h3v2h-3zM1907 852h3v2h-3zM1913 852h3v2h-3zM1919 852h3v2h-3zM1997 852h3v2h-3zM2033 852h9v2h-9zM2051 852h3v2h-3zM2099 852h3v2h-3zM2108 852h6v2h-6zM2117 852h3v2h-3zM2123 852h6v2h-6zM2141 852h3v2h-3zM2150 852h3v2h-3zM2156 852h3v2h-3zM2165 852h3v2h-3zM2171 852h18v2h-18zM2201 852h6v2h-6zM2210 852h6v2h-6zM2231 852h3v2h-3zM2237 852h3v2h-3zM2258 852h3v2h-3zM2273 852h3v2h-3zM2288 852h3v2h-3zM2327 852h6v2h-6zM2339 852h9v2h-9zM2354 852h6v2h-6zM2372 852h3v2h-3zM2399 852h3v2h-3zM2408 852h3v2h-3zM2417 852h3v2h-3zM2426 852h3v2h-3zM2438 852h6v2h-6zM2447 852h9v2h-9zM2462 852h3v2h-3zM2471 852h9v2h-9zM2483 852h3v2h-3zM2513 852h3v2h-3zM2519 852h3v2h-3zM2546 852h3v2h-3zM2567 852h3v2h-3zM2582 852h3v2h-3zM2591 852h3v2h-3zM2597 852h3v2h-3zM2606 852h9v2h-9zM2624 852h3v2h-3zM2630 852h3v2h-3zM2642 852h15v2h-15zM2660 852h3v2h-3zM2666 852h3v2h-3zM2672 852h6v2h-6zM2684 852h6v2h-6zM2696 852h12v2h-12zM2714 852h6v2h-6zM2723 852h6v2h-6zM2738 852h3v2h-3zM2744 852h3v2h-3zM2750 852h3v2h-3zM2756 852h6v2h-6zM2774 852h3v2h-3zM2783 852h9v2h-9zM2804 852h3v2h-3zM2825 852h3v2h-3zM2837 852h12v2h-12zM2852 852h3v2h-3zM2858 852h3v2h-3zM2876 852h3v2h-3zM2900 852h6v2h-6zM2915 852h3v2h-3zM2921 852h3v2h-3zM2948 852h3v2h-3zM2957 852h3v2h-3zM2975 852h3v2h-3zM2984 852h6v2h-6zM2993 852h9v2h-9zM3005 852h3v2h-3zM3014 852h6v2h-6zM3032 852h3v2h-3zM3038 852h3v2h-3zM3050 852h9v2h-9zM3065 852h6v2h-6zM3077 852h6v2h-6zM3089 852h6v2h-6zM3098 852h3v2h-3zM3104 852h6v2h-6zM3113 852h3v2h-3zM3119 852h3v2h-3zM3128 852h3v2h-3zM3134 852h9v2h-9zM3158 852h3v2h-3zM3164 852h3v2h-3zM3170 852h6v2h-6zM3200 852h6v2h-6zM3215 852h3v2h-3zM3224 852h3v2h-3zM3233 852h3v2h-3zM3248 852h3v2h-3zM3254 852h3v2h-3zM3263 852h3v2h-3zM3269 852h3v2h-3zM3296 852h3v2h-3zM3302 852h3v2h-3zM3320 852h6v2h-6zM3335 852h9v2h-9zM3347 852h3v2h-3zM3353 852h3v2h-3zM3362 852h3v2h-3zM3386 852h3v2h-3zM3392 852h9v2h-9zM3407 852h3v2h-3zM3413 852h3v2h-3zM3428 852h3v2h-3zM3437 852h3v2h-3zM3446 852h12v2h-12zM3464 852h3v2h-3zM3470 852h3v2h-3zM3476 852h6v2h-6zM3485 852h3v2h-3zM3491 852h3v2h-3zM3503 852h6v2h-6zM3512 852h3v2h-3zM3521 852h3v2h-3zM3539 852h9v2h-9zM3554 852h3v2h-3zM3566 852h15v2h-15zM3587 852h12v2h-12zM3602 852h3v2h-3zM3632 852h3v2h-3zM290 854h3v2h-3zM302 854h3v2h-3zM314 854h3v2h-3zM329 854h3v2h-3zM335 854h6v2h-6zM344 854h6v2h-6zM371 854h3v2h-3zM518 854h6v2h-6zM536 854h3v2h-3zM545 854h3v2h-3zM560 854h3v2h-3zM614 854h3v2h-3zM653 854h3v2h-3zM665 854h3v2h-3zM839 854h3v2h-3zM875 854h3v2h-3zM902 854h3v2h-3zM1100 854h3v2h-3zM1106 854h3v2h-3zM1124 854h3v2h-3zM1136 854h3v2h-3zM1151 854h3v2h-3zM1178 854h3v2h-3zM1184 854h3v2h-3zM1196 854h3v2h-3zM1202 854h3v2h-3zM1214 854h3v2h-3zM1292 854h3v2h-3zM1310 854h3v2h-3zM1370 854h3v2h-3zM1424 854h3v2h-3zM1445 854h3v2h-3zM1457 854h3v2h-3zM1511 854h3v2h-3zM1523 854h3v2h-3zM1580 854h3v2h-3zM1607 854h6v2h-6zM1694 854h6v2h-6zM1706 854h3v2h-3zM1745 854h3v2h-3zM1766 854h6v2h-6zM1775 854h3v2h-3zM1799 854h3v2h-3zM1808 854h3v2h-3zM1820 854h6v2h-6zM1841 854h9v2h-9zM1856 854h3v2h-3zM1865 854h3v2h-3zM1874 854h3v2h-3zM1880 854h3v2h-3zM1907 854h3v2h-3zM1916 854h3v2h-3zM1934 854h3v2h-3zM1949 854h6v2h-6zM1985 854h3v2h-3zM1991 854h3v2h-3zM2018 854h3v2h-3zM2036 854h6v2h-6zM2060 854h3v2h-3zM2072 854h6v2h-6zM2090 854h3v2h-3zM2096 854h3v2h-3zM2105 854h3v2h-3zM2123 854h3v2h-3zM2132 854h3v2h-3zM2141 854h9v2h-9zM2159 854h3v2h-3zM2165 854h3v2h-3zM2171 854h6v2h-6zM2183 854h3v2h-3zM2189 854h6v2h-6zM2198 854h9v2h-9zM2213 854h3v2h-3zM2219 854h3v2h-3zM2225 854h3v2h-3zM2282 854h6v2h-6zM2306 854h3v2h-3zM2315 854h3v2h-3zM2321 854h12v2h-12zM2339 854h3v2h-3zM2345 854h12v2h-12zM2360 854h3v2h-3zM2369 854h9v2h-9zM2381 854h15v2h-15zM2399 854h18v2h-18zM2420 854h6v2h-6zM2429 854h6v2h-6zM2441 854h3v2h-3zM2450 854h6v2h-6zM2477 854h9v2h-9zM2513 854h3v2h-3zM2525 854h18v2h-18zM2549 854h3v2h-3zM2570 854h6v2h-6zM2585 854h3v2h-3zM2591 854h3v2h-3zM2609 854h6v2h-6zM2624 854h3v2h-3zM2630 854h9v2h-9zM2642 854h3v2h-3zM2657 854h3v2h-3zM2663 854h15v2h-15zM2684 854h3v2h-3zM2690 854h3v2h-3zM2699 854h3v2h-3zM2705 854h21v2h-21zM2729 854h3v2h-3zM2738 854h24v2h-24zM2765 854h12v2h-12zM2780 854h3v2h-3zM2792 854h3v2h-3zM2801 854h6v2h-6zM2816 854h3v2h-3zM2822 854h3v2h-3zM2828 854h3v2h-3zM2834 854h3v2h-3zM2843 854h3v2h-3zM2855 854h3v2h-3zM2861 854h3v2h-3zM2876 854h3v2h-3zM2903 854h9v2h-9zM2918 854h3v2h-3zM2933 854h9v2h-9zM2951 854h6v2h-6zM2963 854h3v2h-3zM2969 854h6v2h-6zM2978 854h6v2h-6zM2987 854h3v2h-3zM2996 854h15v2h-15zM3014 854h18v2h-18zM3035 854h6v2h-6zM3044 854h6v2h-6zM3056 854h6v2h-6zM3065 854h3v2h-3zM3074 854h3v2h-3zM3083 854h6v2h-6zM3092 854h3v2h-3zM3098 854h9v2h-9zM3119 854h3v2h-3zM3125 854h9v2h-9zM3137 854h6v2h-6zM3158 854h6v2h-6zM3170 854h6v2h-6zM3179 854h6v2h-6zM3206 854h6v2h-6zM3215 854h6v2h-6zM3227 854h9v2h-9zM3242 854h3v2h-3zM3257 854h3v2h-3zM3266 854h3v2h-3zM3275 854h6v2h-6zM3284 854h9v2h-9zM3308 854h3v2h-3zM3317 854h3v2h-3zM3323 854h6v2h-6zM3338 854h9v2h-9zM3350 854h6v2h-6zM3359 854h3v2h-3zM3365 854h9v2h-9zM3383 854h3v2h-3zM3404 854h6v2h-6zM3416 854h6v2h-6zM3431 854h12v2h-12zM3467 854h3v2h-3zM3476 854h15v2h-15zM3494 854h3v2h-3zM3500 854h3v2h-3zM3506 854h3v2h-3zM3512 854h6v2h-6zM3524 854h6v2h-6zM3542 854h3v2h-3zM3554 854h3v2h-3zM3566 854h3v2h-3zM3578 854h3v2h-3zM3584 854h3v2h-3zM3602 854h3v2h-3zM3608 854h9v2h-9zM3623 854h3v2h-3zM266 856h3v2h-3zM272 856h18v2h-18zM296 856h9v2h-9zM311 856h3v2h-3zM320 856h21v2h-21zM344 856h6v2h-6zM392 856h3v2h-3zM515 856h6v2h-6zM587 856h3v2h-3zM635 856h3v2h-3zM656 856h3v2h-3zM686 856h3v2h-3zM722 856h3v2h-3zM746 856h3v2h-3zM818 856h3v2h-3zM830 856h3v2h-3zM929 856h3v2h-3zM977 856h3v2h-3zM998 856h3v2h-3zM1007 856h3v2h-3zM1022 856h3v2h-3zM1049 856h3v2h-3zM1067 856h3v2h-3zM1085 856h3v2h-3zM1118 856h3v2h-3zM1133 856h3v2h-3zM1142 856h3v2h-3zM1151 856h3v2h-3zM1169 856h3v2h-3zM1214 856h3v2h-3zM1244 856h3v2h-3zM1274 856h3v2h-3zM1280 856h3v2h-3zM1286 856h6v2h-6zM1346 856h3v2h-3zM1415 856h3v2h-3zM1427 856h6v2h-6zM1436 856h6v2h-6zM1451 856h3v2h-3zM1481 856h3v2h-3zM1532 856h3v2h-3zM1544 856h3v2h-3zM1562 856h3v2h-3zM1658 856h3v2h-3zM1676 856h3v2h-3zM1706 856h3v2h-3zM1733 856h3v2h-3zM1769 856h3v2h-3zM1787 856h3v2h-3zM1814 856h3v2h-3zM1841 856h3v2h-3zM1847 856h3v2h-3zM1862 856h9v2h-9zM1877 856h3v2h-3zM1895 856h3v2h-3zM1922 856h3v2h-3zM1961 856h3v2h-3zM1973 856h3v2h-3zM1979 856h6v2h-6zM1997 856h3v2h-3zM2024 856h6v2h-6zM2054 856h3v2h-3zM2063 856h3v2h-3zM2069 856h3v2h-3zM2081 856h3v2h-3zM2087 856h6v2h-6zM2096 856h3v2h-3zM2120 856h6v2h-6zM2144 856h6v2h-6zM2156 856h6v2h-6zM2168 856h3v2h-3zM2186 856h6v2h-6zM2204 856h3v2h-3zM2210 856h3v2h-3zM2219 856h3v2h-3zM2225 856h6v2h-6zM2234 856h6v2h-6zM2249 856h3v2h-3zM2255 856h3v2h-3zM2261 856h9v2h-9zM2273 856h6v2h-6zM2285 856h9v2h-9zM2297 856h6v2h-6zM2315 856h6v2h-6zM2324 856h3v2h-3zM2330 856h3v2h-3zM2336 856h3v2h-3zM2342 856h6v2h-6zM2351 856h3v2h-3zM2360 856h6v2h-6zM2369 856h3v2h-3zM2375 856h9v2h-9zM2387 856h3v2h-3zM2405 856h15v2h-15zM2423 856h3v2h-3zM2432 856h3v2h-3zM2438 856h12v2h-12zM2462 856h3v2h-3zM2468 856h3v2h-3zM2474 856h3v2h-3zM2480 856h6v2h-6zM2489 856h9v2h-9zM2516 856h3v2h-3zM2528 856h9v2h-9zM2540 856h6v2h-6zM2552 856h6v2h-6zM2561 856h3v2h-3zM2567 856h9v2h-9zM2579 856h6v2h-6zM2588 856h9v2h-9zM2600 856h3v2h-3zM2606 856h3v2h-3zM2612 856h3v2h-3zM2621 856h12v2h-12zM2636 856h6v2h-6zM2648 856h6v2h-6zM2657 856h6v2h-6zM2675 856h3v2h-3zM2681 856h6v2h-6zM2690 856h12v2h-12zM2708 856h12v2h-12zM2723 856h15v2h-15zM2741 856h9v2h-9zM2753 856h9v2h-9zM2765 856h15v2h-15zM2783 856h3v2h-3zM2789 856h3v2h-3zM2795 856h3v2h-3zM2801 856h6v2h-6zM2810 856h3v2h-3zM2816 856h6v2h-6zM2831 856h3v2h-3zM2852 856h6v2h-6zM2861 856h3v2h-3zM2867 856h9v2h-9zM2882 856h3v2h-3zM2915 856h3v2h-3zM2921 856h3v2h-3zM2930 856h3v2h-3zM2939 856h3v2h-3zM2945 856h6v2h-6zM2954 856h3v2h-3zM2960 856h6v2h-6zM2969 856h6v2h-6zM2981 856h6v2h-6zM2990 856h6v2h-6zM2999 856h27v2h-27zM3029 856h6v2h-6zM3038 856h3v2h-3zM3044 856h3v2h-3zM3050 856h72v2h-72zM3125 856h3v2h-3zM3131 856h9v2h-9zM3146 856h3v2h-3zM3152 856h12v2h-12zM3167 856h9v2h-9zM3182 856h3v2h-3zM3188 856h3v2h-3zM3200 856h6v2h-6zM3209 856h3v2h-3zM3215 856h12v2h-12zM3233 856h6v2h-6zM3245 856h15v2h-15zM3266 856h12v2h-12zM3281 856h9v2h-9zM3293 856h6v2h-6zM3302 856h27v2h-27zM3332 856h6v2h-6zM3341 856h6v2h-6zM3350 856h6v2h-6zM3362 856h3v2h-3zM3368 856h3v2h-3zM3374 856h3v2h-3zM3386 856h9v2h-9zM3404 856h12v2h-12zM3419 856h6v2h-6zM3449 856h27v2h-27zM3479 856h12v2h-12zM3494 856h3v2h-3zM3503 856h3v2h-3zM3509 856h6v2h-6zM3518 856h3v2h-3zM3524 856h6v2h-6zM3542 856h6v2h-6zM3551 856h6v2h-6zM3563 856h3v2h-3zM3569 856h6v2h-6zM3578 856h3v2h-3zM3584 856h3v2h-3zM3590 856h6v2h-6zM3599 856h3v2h-3zM3605 856h3v2h-3zM3611 856h9v2h-9zM3623 856h3v2h-3zM3629 856h8v2h-8zM266 858h3v2h-3zM272 858h21v2h-21zM296 858h6v2h-6zM308 858h3v2h-3zM314 858h18v2h-18zM338 858h6v2h-6zM347 858h3v2h-3zM380 858h9v2h-9zM392 858h6v2h-6zM428 858h3v2h-3zM491 858h3v2h-3zM506 858h3v2h-3zM524 858h3v2h-3zM533 858h3v2h-3zM545 858h3v2h-3zM563 858h3v2h-3zM581 858h3v2h-3zM596 858h3v2h-3zM620 858h3v2h-3zM632 858h3v2h-3zM644 858h3v2h-3zM677 858h3v2h-3zM683 858h3v2h-3zM689 858h3v2h-3zM836 858h3v2h-3zM935 858h3v2h-3zM977 858h3v2h-3zM1028 858h3v2h-3zM1037 858h6v2h-6zM1073 858h3v2h-3zM1139 858h3v2h-3zM1193 858h3v2h-3zM1202 858h3v2h-3zM1259 858h3v2h-3zM1277 858h3v2h-3zM1283 858h3v2h-3zM1289 858h3v2h-3zM1301 858h3v2h-3zM1349 858h3v2h-3zM1358 858h3v2h-3zM1466 858h3v2h-3zM1487 858h3v2h-3zM1496 858h3v2h-3zM1523 858h3v2h-3zM1556 858h3v2h-3zM1565 858h3v2h-3zM1571 858h3v2h-3zM1610 858h3v2h-3zM1619 858h3v2h-3zM1649 858h9v2h-9zM1703 858h3v2h-3zM1715 858h3v2h-3zM1724 858h3v2h-3zM1763 858h6v2h-6zM1805 858h3v2h-3zM1814 858h6v2h-6zM1832 858h3v2h-3zM1844 858h3v2h-3zM1850 858h3v2h-3zM1865 858h3v2h-3zM1877 858h3v2h-3zM1895 858h3v2h-3zM1904 858h3v2h-3zM1919 858h3v2h-3zM1925 858h3v2h-3zM1937 858h3v2h-3zM1943 858h3v2h-3zM1976 858h3v2h-3zM1988 858h3v2h-3zM2021 858h3v2h-3zM2027 858h3v2h-3zM2036 858h3v2h-3zM2042 858h3v2h-3zM2051 858h6v2h-6zM2060 858h6v2h-6zM2081 858h6v2h-6zM2090 858h3v2h-3zM2096 858h6v2h-6zM2126 858h3v2h-3zM2132 858h6v2h-6zM2141 858h3v2h-3zM2150 858h18v2h-18zM2174 858h3v2h-3zM2180 858h27v2h-27zM2213 858h3v2h-3zM2225 858h18v2h-18zM2258 858h3v2h-3zM2264 858h12v2h-12zM2279 858h6v2h-6zM2288 858h3v2h-3zM2294 858h6v2h-6zM2303 858h6v2h-6zM2318 858h3v2h-3zM2324 858h3v2h-3zM2330 858h6v2h-6zM2339 858h6v2h-6zM2351 858h21v2h-21zM2375 858h6v2h-6zM2384 858h3v2h-3zM2393 858h3v2h-3zM2405 858h3v2h-3zM2417 858h3v2h-3zM2432 858h12v2h-12zM2453 858h6v2h-6zM2462 858h9v2h-9zM2480 858h6v2h-6zM2489 858h18v2h-18zM2510 858h3v2h-3zM2516 858h6v2h-6zM2528 858h21v2h-21zM2552 858h3v2h-3zM2558 858h3v2h-3zM2564 858h3v2h-3zM2576 858h9v2h-9zM2591 858h6v2h-6zM2600 858h27v2h-27zM2630 858h6v2h-6zM2642 858h18v2h-18zM2663 858h72v2h-72zM2738 858h36v2h-36zM2777 858h9v2h-9zM2789 858h3v2h-3zM2795 858h24v2h-24zM2822 858h6v2h-6zM2840 858h3v2h-3zM2849 858h3v2h-3zM2861 858h3v2h-3zM2873 858h3v2h-3zM2879 858h3v2h-3zM2885 858h6v2h-6zM2897 858h15v2h-15zM2918 858h3v2h-3zM2924 858h9v2h-9zM2936 858h3v2h-3zM2945 858h6v2h-6zM2957 858h3v2h-3zM2969 858h6v2h-6zM2978 858h3v2h-3zM2984 858h3v2h-3zM2990 858h3v2h-3zM2996 858h54v2h-54zM3053 858h18v2h-18zM3074 858h15v2h-15zM3092 858h9v2h-9zM3104 858h3v2h-3zM3110 858h18v2h-18zM3131 858h15v2h-15zM3149 858h21v2h-21zM3173 858h18v2h-18zM3194 858h9v2h-9zM3206 858h9v2h-9zM3218 858h18v2h-18zM3239 858h27v2h-27zM3269 858h3v2h-3zM3275 858h15v2h-15zM3296 858h6v2h-6zM3305 858h3v2h-3zM3317 858h3v2h-3zM3323 858h6v2h-6zM3332 858h6v2h-6zM3341 858h6v2h-6zM3350 858h3v2h-3zM3356 858h6v2h-6zM3365 858h3v2h-3zM3374 858h3v2h-3zM3380 858h3v2h-3zM3386 858h9v2h-9zM3398 858h15v2h-15zM3416 858h33v2h-33zM3455 858h24v2h-24zM3482 858h3v2h-3zM3488 858h6v2h-6zM3497 858h3v2h-3zM3503 858h6v2h-6zM3515 858h3v2h-3zM3527 858h9v2h-9zM3551 858h3v2h-3zM3557 858h6v2h-6zM3569 858h3v2h-3zM3575 858h12v2h-12zM3590 858h6v2h-6zM3599 858h9v2h-9zM3611 858h3v2h-3zM3617 858h9v2h-9zM3629 858h8v2h-8zM266 860h6v2h-6zM278 860h6v2h-6zM287 860h9v2h-9zM302 860h12v2h-12zM317 860h33v2h-33zM380 860h3v2h-3zM398 860h3v2h-3zM425 860h3v2h-3zM431 860h3v2h-3zM458 860h3v2h-3zM488 860h3v2h-3zM521 860h6v2h-6zM536 860h3v2h-3zM560 860h3v2h-3zM602 860h3v2h-3zM644 860h3v2h-3zM662 860h3v2h-3zM701 860h3v2h-3zM713 860h3v2h-3zM737 860h3v2h-3zM764 860h3v2h-3zM857 860h3v2h-3zM869 860h3v2h-3zM932 860h3v2h-3zM995 860h3v2h-3zM1001 860h3v2h-3zM1013 860h3v2h-3zM1037 860h3v2h-3zM1091 860h3v2h-3zM1103 860h3v2h-3zM1151 860h3v2h-3zM1160 860h6v2h-6zM1199 860h3v2h-3zM1217 860h3v2h-3zM1286 860h3v2h-3zM1316 860h6v2h-6zM1340 860h3v2h-3zM1361 860h3v2h-3zM1394 860h3v2h-3zM1412 860h3v2h-3zM1448 860h3v2h-3zM1457 860h3v2h-3zM1466 860h3v2h-3zM1505 860h3v2h-3zM1541 860h3v2h-3zM1571 860h3v2h-3zM1589 860h3v2h-3zM1601 860h3v2h-3zM1616 860h3v2h-3zM1625 860h3v2h-3zM1643 860h3v2h-3zM1649 860h3v2h-3zM1658 860h3v2h-3zM1673 860h3v2h-3zM1685 860h3v2h-3zM1715 860h6v2h-6zM1730 860h6v2h-6zM1745 860h9v2h-9zM1775 860h3v2h-3zM1793 860h3v2h-3zM1832 860h6v2h-6zM1841 860h3v2h-3zM1859 860h9v2h-9zM1874 860h3v2h-3zM1880 860h3v2h-3zM1904 860h3v2h-3zM1910 860h3v2h-3zM1937 860h3v2h-3zM1949 860h3v2h-3zM1976 860h3v2h-3zM1985 860h6v2h-6zM1994 860h3v2h-3zM2009 860h6v2h-6zM2054 860h3v2h-3zM2066 860h9v2h-9zM2081 860h3v2h-3zM2087 860h6v2h-6zM2096 860h18v2h-18zM2123 860h3v2h-3zM2129 860h3v2h-3zM2135 860h6v2h-6zM2144 860h3v2h-3zM2150 860h3v2h-3zM2156 860h3v2h-3zM2162 860h12v2h-12zM2177 860h9v2h-9zM2189 860h3v2h-3zM2195 860h3v2h-3zM2201 860h30v2h-30zM2237 860h6v2h-6zM2246 860h3v2h-3zM2252 860h3v2h-3zM2261 860h6v2h-6zM2270 860h12v2h-12zM2285 860h3v2h-3zM2294 860h9v2h-9zM2306 860h3v2h-3zM2315 860h6v2h-6zM2324 860h18v2h-18zM2345 860h3v2h-3zM2354 860h9v2h-9zM2366 860h3v2h-3zM2372 860h6v2h-6zM2381 860h27v2h-27zM2411 860h9v2h-9zM2423 860h6v2h-6zM2432 860h3v2h-3zM2438 860h6v2h-6zM2450 860h6v2h-6zM2459 860h9v2h-9zM2471 860h3v2h-3zM2480 860h3v2h-3zM2486 860h6v2h-6zM2495 860h6v2h-6zM2504 860h6v2h-6zM2516 860h3v2h-3zM2525 860h12v2h-12zM2540 860h15v2h-15zM2558 860h51v2h-51zM2615 860h162v2h-162zM2780 860h18v2h-18zM2801 860h3v2h-3zM2807 860h3v2h-3zM2816 860h6v2h-6zM2840 860h6v2h-6zM2849 860h9v2h-9zM2864 860h9v2h-9zM2876 860h15v2h-15zM2897 860h3v2h-3zM2903 860h3v2h-3zM2909 860h15v2h-15zM2927 860h3v2h-3zM2945 860h3v2h-3zM2957 860h6v2h-6zM2972 860h3v2h-3zM2978 860h3v2h-3zM2987 860h36v2h-36zM3026 860h27v2h-27zM3056 860h93v2h-93zM3152 860h36v2h-36zM3191 860h48v2h-48zM3242 860h42v2h-42zM3287 860h24v2h-24zM3314 860h33v2h-33zM3350 860h9v2h-9zM3362 860h12v2h-12zM3377 860h9v2h-9zM3389 860h48v2h-48zM3440 860h30v2h-30zM3473 860h24v2h-24zM3503 860h3v2h-3zM3518 860h12v2h-12zM3533 860h3v2h-3zM3539 860h3v2h-3zM3545 860h6v2h-6zM3554 860h6v2h-6zM3566 860h9v2h-9zM3578 860h3v2h-3zM3584 860h9v2h-9zM3599 860h36v2h-36zM275 862h3v2h-3zM281 862h3v2h-3zM287 862h6v2h-6zM299 862h9v2h-9zM311 862h6v2h-6zM323 862h12v2h-12zM344 862h6v2h-6zM377 862h3v2h-3zM395 862h3v2h-3zM416 862h3v2h-3zM458 862h3v2h-3zM500 862h3v2h-3zM533 862h3v2h-3zM554 862h3v2h-3zM686 862h3v2h-3zM860 862h6v2h-6zM941 862h3v2h-3zM1001 862h3v2h-3zM1052 862h3v2h-3zM1079 862h6v2h-6zM1091 862h3v2h-3zM1103 862h6v2h-6zM1127 862h3v2h-3zM1190 862h6v2h-6zM1199 862h3v2h-3zM1211 862h3v2h-3zM1274 862h3v2h-3zM1298 862h3v2h-3zM1313 862h3v2h-3zM1325 862h3v2h-3zM1331 862h3v2h-3zM1337 862h3v2h-3zM1343 862h3v2h-3zM1364 862h3v2h-3zM1397 862h9v2h-9zM1421 862h3v2h-3zM1448 862h3v2h-3zM1526 862h3v2h-3zM1547 862h3v2h-3zM1553 862h3v2h-3zM1577 862h3v2h-3zM1592 862h3v2h-3zM1619 862h6v2h-6zM1652 862h3v2h-3zM1658 862h3v2h-3zM1673 862h3v2h-3zM1697 862h3v2h-3zM1724 862h6v2h-6zM1745 862h3v2h-3zM1757 862h3v2h-3zM1763 862h3v2h-3zM1781 862h6v2h-6zM1802 862h6v2h-6zM1835 862h3v2h-3zM1841 862h3v2h-3zM1853 862h9v2h-9zM1871 862h3v2h-3zM1910 862h3v2h-3zM1943 862h3v2h-3zM1955 862h3v2h-3zM1970 862h9v2h-9zM1985 862h12v2h-12zM2000 862h6v2h-6zM2015 862h3v2h-3zM2024 862h6v2h-6zM2036 862h42v2h-42zM2081 862h6v2h-6zM2090 862h6v2h-6zM2099 862h6v2h-6zM2108 862h6v2h-6zM2117 862h3v2h-3zM2129 862h12v2h-12zM2144 862h6v2h-6zM2156 862h3v2h-3zM2162 862h6v2h-6zM2171 862h6v2h-6zM2180 862h3v2h-3zM2186 862h6v2h-6zM2195 862h18v2h-18zM2219 862h3v2h-3zM2228 862h24v2h-24zM2255 862h27v2h-27zM2288 862h3v2h-3zM2294 862h6v2h-6zM2309 862h6v2h-6zM2318 862h6v2h-6zM2327 862h12v2h-12zM2342 862h6v2h-6zM2351 862h30v2h-30zM2384 862h24v2h-24zM2411 862h3v2h-3zM2417 862h21v2h-21zM2444 862h6v2h-6zM2456 862h6v2h-6zM2465 862h15v2h-15zM2483 862h6v2h-6zM2492 862h33v2h-33zM2528 862h27v2h-27zM2561 862h12v2h-12zM2576 862h105v2h-105zM2684 862h24v2h-24zM2711 862h78v2h-78zM2792 862h3v2h-3zM2798 862h6v2h-6zM2807 862h3v2h-3zM2813 862h3v2h-3zM2822 862h3v2h-3zM2831 862h6v2h-6zM2840 862h3v2h-3zM2846 862h9v2h-9zM2858 862h9v2h-9zM2870 862h15v2h-15zM2888 862h6v2h-6zM2900 862h12v2h-12zM2915 862h6v2h-6zM2924 862h3v2h-3zM2930 862h6v2h-6zM2939 862h6v2h-6zM2948 862h3v2h-3zM2954 862h18v2h-18zM2978 862h3v2h-3zM2987 862h204v2h-204zM3194 862h33v2h-33zM3230 862h60v2h-60zM3296 862h99v2h-99zM3398 862h60v2h-60zM3461 862h39v2h-39zM3503 862h36v2h-36zM3542 862h3v2h-3zM3548 862h42v2h-42zM3593 862h3v2h-3zM3602 862h18v2h-18zM3623 862h3v2h-3zM3629 862h8v2h-8zM266 864h9v2h-9zM278 864h6v2h-6zM287 864h3v2h-3zM302 864h6v2h-6zM311 864h6v2h-6zM320 864h9v2h-9zM332 864h15v2h-15zM383 864h3v2h-3zM398 864h3v2h-3zM407 864h3v2h-3zM422 864h3v2h-3zM440 864h3v2h-3zM458 864h3v2h-3zM467 864h6v2h-6zM494 864h3v2h-3zM506 864h3v2h-3zM512 864h3v2h-3zM527 864h3v2h-3zM548 864h3v2h-3zM587 864h6v2h-6zM599 864h3v2h-3zM608 864h3v2h-3zM638 864h3v2h-3zM644 864h3v2h-3zM656 864h3v2h-3zM677 864h3v2h-3zM743 864h3v2h-3zM896 864h3v2h-3zM947 864h3v2h-3zM965 864h3v2h-3zM983 864h9v2h-9zM995 864h3v2h-3zM1001 864h3v2h-3zM1007 864h3v2h-3zM1019 864h3v2h-3zM1034 864h3v2h-3zM1040 864h3v2h-3zM1055 864h6v2h-6zM1136 864h3v2h-3zM1142 864h6v2h-6zM1151 864h3v2h-3zM1163 864h3v2h-3zM1178 864h3v2h-3zM1211 864h3v2h-3zM1217 864h6v2h-6zM1268 864h6v2h-6zM1337 864h6v2h-6zM1352 864h3v2h-3zM1367 864h3v2h-3zM1385 864h3v2h-3zM1433 864h3v2h-3zM1439 864h6v2h-6zM1451 864h3v2h-3zM1481 864h3v2h-3zM1496 864h3v2h-3zM1505 864h3v2h-3zM1517 864h3v2h-3zM1523 864h3v2h-3zM1532 864h3v2h-3zM1538 864h3v2h-3zM1553 864h3v2h-3zM1568 864h3v2h-3zM1577 864h3v2h-3zM1586 864h3v2h-3zM1598 864h3v2h-3zM1634 864h3v2h-3zM1640 864h3v2h-3zM1661 864h3v2h-3zM1673 864h3v2h-3zM1703 864h6v2h-6zM1745 864h3v2h-3zM1757 864h3v2h-3zM1772 864h3v2h-3zM1778 864h6v2h-6zM1802 864h3v2h-3zM1823 864h3v2h-3zM1835 864h3v2h-3zM1850 864h6v2h-6zM1886 864h3v2h-3zM1892 864h9v2h-9zM1907 864h3v2h-3zM1919 864h3v2h-3zM1928 864h3v2h-3zM1937 864h6v2h-6zM1952 864h6v2h-6zM1961 864h6v2h-6zM1979 864h3v2h-3zM1985 864h3v2h-3zM1997 864h3v2h-3zM2003 864h3v2h-3zM2009 864h3v2h-3zM2018 864h3v2h-3zM2027 864h3v2h-3zM2033 864h3v2h-3zM2045 864h3v2h-3zM2051 864h6v2h-6zM2063 864h3v2h-3zM2072 864h3v2h-3zM2078 864h3v2h-3zM2090 864h6v2h-6zM2099 864h3v2h-3zM2108 864h3v2h-3zM2114 864h9v2h-9zM2126 864h3v2h-3zM2138 864h3v2h-3zM2144 864h3v2h-3zM2150 864h6v2h-6zM2162 864h9v2h-9zM2174 864h9v2h-9zM2186 864h12v2h-12zM2204 864h6v2h-6zM2213 864h3v2h-3zM2225 864h33v2h-33zM2261 864h18v2h-18zM2282 864h39v2h-39zM2324 864h18v2h-18zM2345 864h3v2h-3zM2351 864h30v2h-30zM2384 864h3v2h-3zM2390 864h6v2h-6zM2399 864h12v2h-12zM2414 864h30v2h-30zM2447 864h6v2h-6zM2462 864h9v2h-9zM2477 864h3v2h-3zM2483 864h228v2h-228zM2714 864h6v2h-6zM2723 864h30v2h-30zM2756 864h45v2h-45zM2804 864h21v2h-21zM2831 864h9v2h-9zM2843 864h18v2h-18zM2876 864h3v2h-3zM2885 864h9v2h-9zM2897 864h36v2h-36zM2936 864h3v2h-3zM2942 864h27v2h-27zM2972 864h201v2h-201zM3176 864h12v2h-12zM3191 864h114v2h-114zM3308 864h60v2h-60zM3371 864h153v2h-153zM3527 864h3v2h-3zM3533 864h18v2h-18zM3554 864h3v2h-3zM3560 864h6v2h-6zM3569 864h66v2h-66zM266 866h6v2h-6zM275 866h9v2h-9zM287 866h6v2h-6zM296 866h3v2h-3zM302 866h3v2h-3zM311 866h3v2h-3zM317 866h6v2h-6zM326 866h3v2h-3zM332 866h18v2h-18zM359 866h3v2h-3zM395 866h3v2h-3zM401 866h3v2h-3zM422 866h3v2h-3zM431 866h3v2h-3zM473 866h3v2h-3zM527 866h3v2h-3zM539 866h6v2h-6zM563 866h3v2h-3zM569 866h3v2h-3zM605 866h3v2h-3zM629 866h3v2h-3zM650 866h3v2h-3zM662 866h3v2h-3zM668 866h3v2h-3zM677 866h3v2h-3zM683 866h6v2h-6zM692 866h6v2h-6zM704 866h3v2h-3zM716 866h3v2h-3zM722 866h12v2h-12zM740 866h3v2h-3zM749 866h6v2h-6zM758 866h3v2h-3zM770 866h6v2h-6zM779 866h3v2h-3zM788 866h9v2h-9zM800 866h3v2h-3zM815 866h3v2h-3zM827 866h3v2h-3zM836 866h6v2h-6zM848 866h6v2h-6zM857 866h3v2h-3zM866 866h6v2h-6zM878 866h3v2h-3zM884 866h3v2h-3zM890 866h3v2h-3zM896 866h3v2h-3zM902 866h6v2h-6zM911 866h3v2h-3zM923 866h3v2h-3zM944 866h3v2h-3zM950 866h3v2h-3zM965 866h6v2h-6zM974 866h3v2h-3zM1004 866h3v2h-3zM1016 866h3v2h-3zM1022 866h3v2h-3zM1034 866h3v2h-3zM1079 866h3v2h-3zM1097 866h3v2h-3zM1115 866h3v2h-3zM1121 866h6v2h-6zM1139 866h3v2h-3zM1166 866h3v2h-3zM1178 866h3v2h-3zM1187 866h3v2h-3zM1193 866h3v2h-3zM1205 866h3v2h-3zM1217 866h3v2h-3zM1262 866h3v2h-3zM1277 866h3v2h-3zM1286 866h6v2h-6zM1310 866h3v2h-3zM1316 866h3v2h-3zM1334 866h3v2h-3zM1343 866h9v2h-9zM1358 866h3v2h-3zM1370 866h3v2h-3zM1394 866h6v2h-6zM1403 866h3v2h-3zM1412 866h3v2h-3zM1421 866h3v2h-3zM1451 866h3v2h-3zM1484 866h3v2h-3zM1499 866h3v2h-3zM1508 866h3v2h-3zM1529 866h6v2h-6zM1544 866h3v2h-3zM1553 866h3v2h-3zM1562 866h3v2h-3zM1583 866h3v2h-3zM1613 866h6v2h-6zM1631 866h3v2h-3zM1649 866h3v2h-3zM1673 866h3v2h-3zM1685 866h3v2h-3zM1697 866h3v2h-3zM1715 866h9v2h-9zM1742 866h3v2h-3zM1754 866h3v2h-3zM1781 866h6v2h-6zM1802 866h6v2h-6zM1811 866h3v2h-3zM1832 866h3v2h-3zM1841 866h6v2h-6zM1862 866h6v2h-6zM1880 866h12v2h-12zM1901 866h6v2h-6zM1910 866h3v2h-3zM1916 866h15v2h-15zM1934 866h3v2h-3zM1940 866h9v2h-9zM1952 866h3v2h-3zM1970 866h3v2h-3zM1976 866h3v2h-3zM1982 866h3v2h-3zM1988 866h12v2h-12zM2003 866h3v2h-3zM2009 866h12v2h-12zM2039 866h3v2h-3zM2051 866h3v2h-3zM2060 866h3v2h-3zM2066 866h3v2h-3zM2072 866h6v2h-6zM2081 866h3v2h-3zM2087 866h6v2h-6zM2099 866h3v2h-3zM2108 866h30v2h-30zM2144 866h9v2h-9zM2156 866h18v2h-18zM2177 866h3v2h-3zM2183 866h27v2h-27zM2213 866h30v2h-30zM2249 866h18v2h-18zM2270 866h6v2h-6zM2279 866h9v2h-9zM2291 866h12v2h-12zM2306 866h6v2h-6zM2315 866h24v2h-24zM2342 866h3v2h-3zM2348 866h3v2h-3zM2354 866h12v2h-12zM2375 866h12v2h-12zM2390 866h6v2h-6zM2399 866h3v2h-3zM2411 866h12v2h-12zM2426 866h24v2h-24zM2453 866h3v2h-3zM2462 866h75v2h-75zM2540 866h60v2h-60zM2603 866h207v2h-207zM2813 866h18v2h-18zM2834 866h18v2h-18zM2858 866h3v2h-3zM2864 866h3v2h-3zM2873 866h6v2h-6zM2885 866h15v2h-15zM2903 866h24v2h-24zM2930 866h3v2h-3zM2936 866h12v2h-12zM2951 866h435v2h-435zM3392 866h21v2h-21zM3416 866h99v2h-99zM3518 866h119v2h-119zM269 868h3v2h-3zM287 868h21v2h-21zM311 868h15v2h-15zM329 868h3v2h-3zM344 868h3v2h-3zM362 868h3v2h-3zM377 868h3v2h-3zM398 868h3v2h-3zM440 868h9v2h-9zM461 868h12v2h-12zM476 868h33v2h-33zM512 868h3v2h-3zM530 868h3v2h-3zM536 868h3v2h-3zM545 868h3v2h-3zM554 868h6v2h-6zM566 868h12v2h-12zM581 868h9v2h-9zM593 868h12v2h-12zM608 868h6v2h-6zM617 868h6v2h-6zM629 868h9v2h-9zM641 868h3v2h-3zM647 868h12v2h-12zM662 868h3v2h-3zM671 868h3v2h-3zM680 868h3v2h-3zM692 868h3v2h-3zM698 868h3v2h-3zM704 868h12v2h-12zM719 868h6v2h-6zM728 868h6v2h-6zM743 868h3v2h-3zM752 868h3v2h-3zM764 868h3v2h-3zM770 868h6v2h-6zM779 868h3v2h-3zM785 868h3v2h-3zM791 868h9v2h-9zM803 868h6v2h-6zM821 868h3v2h-3zM827 868h3v2h-3zM836 868h3v2h-3zM842 868h15v2h-15zM860 868h6v2h-6zM872 868h6v2h-6zM881 868h3v2h-3zM887 868h6v2h-6zM896 868h6v2h-6zM905 868h6v2h-6zM917 868h9v2h-9zM929 868h9v2h-9zM941 868h9v2h-9zM956 868h3v2h-3zM962 868h3v2h-3zM968 868h9v2h-9zM980 868h15v2h-15zM998 868h3v2h-3zM1010 868h3v2h-3zM1019 868h3v2h-3zM1025 868h3v2h-3zM1031 868h3v2h-3zM1037 868h3v2h-3zM1043 868h15v2h-15zM1064 868h3v2h-3zM1073 868h15v2h-15zM1097 868h3v2h-3zM1103 868h3v2h-3zM1109 868h3v2h-3zM1118 868h6v2h-6zM1136 868h6v2h-6zM1145 868h3v2h-3zM1151 868h3v2h-3zM1166 868h6v2h-6zM1178 868h6v2h-6zM1190 868h3v2h-3zM1196 868h3v2h-3zM1208 868h3v2h-3zM1217 868h3v2h-3zM1223 868h3v2h-3zM1244 868h3v2h-3zM1250 868h3v2h-3zM1256 868h3v2h-3zM1274 868h6v2h-6zM1289 868h3v2h-3zM1310 868h3v2h-3zM1319 868h3v2h-3zM1343 868h3v2h-3zM1373 868h3v2h-3zM1382 868h3v2h-3zM1394 868h6v2h-6zM1430 868h3v2h-3zM1442 868h3v2h-3zM1448 868h3v2h-3zM1454 868h6v2h-6zM1469 868h9v2h-9zM1487 868h3v2h-3zM1502 868h3v2h-3zM1511 868h3v2h-3zM1523 868h3v2h-3zM1577 868h6v2h-6zM1586 868h3v2h-3zM1598 868h3v2h-3zM1604 868h3v2h-3zM1610 868h3v2h-3zM1622 868h6v2h-6zM1655 868h6v2h-6zM1664 868h3v2h-3zM1670 868h3v2h-3zM1688 868h3v2h-3zM1700 868h3v2h-3zM1712 868h6v2h-6zM1727 868h9v2h-9zM1748 868h3v2h-3zM1757 868h6v2h-6zM1766 868h3v2h-3zM1775 868h3v2h-3zM1787 868h3v2h-3zM1793 868h9v2h-9zM1805 868h6v2h-6zM1814 868h3v2h-3zM1820 868h6v2h-6zM1829 868h9v2h-9zM1841 868h6v2h-6zM1850 868h3v2h-3zM1862 868h3v2h-3zM1868 868h3v2h-3zM1877 868h6v2h-6zM1886 868h6v2h-6zM1895 868h6v2h-6zM1904 868h6v2h-6zM1925 868h3v2h-3zM1931 868h15v2h-15zM1955 868h3v2h-3zM1961 868h3v2h-3zM1967 868h9v2h-9zM1982 868h9v2h-9zM1994 868h3v2h-3zM2003 868h3v2h-3zM2015 868h3v2h-3zM2021 868h9v2h-9zM2039 868h9v2h-9zM2054 868h3v2h-3zM2066 868h6v2h-6zM2081 868h9v2h-9zM2093 868h6v2h-6zM2102 868h15v2h-15zM2120 868h3v2h-3zM2129 868h24v2h-24zM2156 868h18v2h-18zM2177 868h3v2h-3zM2183 868h3v2h-3zM2189 868h6v2h-6zM2201 868h6v2h-6zM2210 868h12v2h-12zM2225 868h12v2h-12zM2240 868h12v2h-12zM2255 868h6v2h-6zM2264 868h6v2h-6zM2279 868h9v2h-9zM2291 868h6v2h-6zM2300 868h12v2h-12zM2318 868h12v2h-12zM2336 868h3v2h-3zM2342 868h3v2h-3zM2348 868h9v2h-9zM2363 868h6v2h-6zM2372 868h21v2h-21zM2396 868h12v2h-12zM2411 868h12v2h-12zM2426 868h18v2h-18zM2447 868h6v2h-6zM2456 868h9v2h-9zM2468 868h3v2h-3zM2474 868h129v2h-129zM2606 868h105v2h-105zM2714 868h75v2h-75zM2792 868h15v2h-15zM2813 868h84v2h-84zM2900 868h3v2h-3zM2906 868h3v2h-3zM2912 868h3v2h-3zM2918 868h9v2h-9zM2930 868h3v2h-3zM2936 868h18v2h-18zM2957 868h18v2h-18zM2978 868h24v2h-24zM3005 868h138v2h-138zM3146 868h138v2h-138zM3287 868h291v2h-291zM3581 868h56v2h-56zM269 870h3v2h-3zM278 870h6v2h-6zM287 870h9v2h-9zM299 870h6v2h-6zM314 870h3v2h-3zM320 870h3v2h-3zM335 870h6v2h-6zM347 870h6v2h-6zM365 870h6v2h-6zM374 870h12v2h-12zM389 870h3v2h-3zM395 870h9v2h-9zM413 870h9v2h-9zM425 870h9v2h-9zM440 870h3v2h-3zM446 870h3v2h-3zM452 870h9v2h-9zM470 870h9v2h-9zM485 870h3v2h-3zM497 870h3v2h-3zM503 870h24v2h-24zM533 870h15v2h-15zM551 870h9v2h-9zM566 870h12v2h-12zM581 870h3v2h-3zM596 870h6v2h-6zM605 870h3v2h-3zM611 870h12v2h-12zM626 870h3v2h-3zM632 870h6v2h-6zM641 870h3v2h-3zM647 870h24v2h-24zM674 870h21v2h-21zM698 870h45v2h-45zM749 870h9v2h-9zM764 870h3v2h-3zM773 870h3v2h-3zM779 870h18v2h-18zM800 870h12v2h-12zM821 870h3v2h-3zM839 870h6v2h-6zM851 870h18v2h-18zM875 870h9v2h-9zM887 870h3v2h-3zM893 870h9v2h-9zM905 870h18v2h-18zM926 870h12v2h-12zM947 870h3v2h-3zM956 870h6v2h-6zM974 870h30v2h-30zM1007 870h6v2h-6zM1016 870h6v2h-6zM1028 870h12v2h-12zM1046 870h6v2h-6zM1055 870h9v2h-9zM1076 870h3v2h-3zM1085 870h3v2h-3zM1091 870h6v2h-6zM1106 870h3v2h-3zM1124 870h12v2h-12zM1139 870h3v2h-3zM1157 870h6v2h-6zM1166 870h3v2h-3zM1175 870h12v2h-12zM1190 870h6v2h-6zM1199 870h9v2h-9zM1220 870h3v2h-3zM1226 870h6v2h-6zM1244 870h24v2h-24zM1271 870h6v2h-6zM1283 870h3v2h-3zM1289 870h6v2h-6zM1301 870h9v2h-9zM1322 870h3v2h-3zM1331 870h3v2h-3zM1352 870h12v2h-12zM1367 870h6v2h-6zM1379 870h3v2h-3zM1388 870h6v2h-6zM1406 870h3v2h-3zM1412 870h3v2h-3zM1418 870h6v2h-6zM1427 870h9v2h-9zM1439 870h3v2h-3zM1445 870h18v2h-18zM1478 870h3v2h-3zM1487 870h3v2h-3zM1493 870h9v2h-9zM1508 870h3v2h-3zM1514 870h3v2h-3zM1520 870h3v2h-3zM1526 870h6v2h-6zM1538 870h3v2h-3zM1550 870h3v2h-3zM1559 870h3v2h-3zM1565 870h3v2h-3zM1574 870h18v2h-18zM1598 870h12v2h-12zM1616 870h6v2h-6zM1625 870h6v2h-6zM1637 870h3v2h-3zM1643 870h3v2h-3zM1649 870h6v2h-6zM1661 870h3v2h-3zM1667 870h15v2h-15zM1691 870h9v2h-9zM1703 870h3v2h-3zM1712 870h3v2h-3zM1718 870h9v2h-9zM1736 870h12v2h-12zM1751 870h6v2h-6zM1760 870h3v2h-3zM1769 870h6v2h-6zM1778 870h3v2h-3zM1787 870h3v2h-3zM1796 870h6v2h-6zM1805 870h3v2h-3zM1814 870h3v2h-3zM1835 870h12v2h-12zM1853 870h6v2h-6zM1865 870h9v2h-9zM1886 870h24v2h-24zM1913 870h6v2h-6zM1925 870h15v2h-15zM1943 870h6v2h-6zM1955 870h12v2h-12zM1970 870h9v2h-9zM1985 870h18v2h-18zM2006 870h3v2h-3zM2012 870h18v2h-18zM2036 870h6v2h-6zM2048 870h12v2h-12zM2063 870h6v2h-6zM2072 870h27v2h-27zM2102 870h12v2h-12zM2117 870h6v2h-6zM2126 870h24v2h-24zM2156 870h21v2h-21zM2186 870h3v2h-3zM2192 870h3v2h-3zM2198 870h24v2h-24zM2225 870h12v2h-12zM2240 870h12v2h-12zM2255 870h6v2h-6zM2267 870h21v2h-21zM2291 870h18v2h-18zM2312 870h6v2h-6zM2321 870h12v2h-12zM2336 870h24v2h-24zM2366 870h18v2h-18zM2387 870h30v2h-30zM2420 870h3v2h-3zM2426 870h3v2h-3zM2432 870h114v2h-114zM2549 870h36v2h-36zM2588 870h102v2h-102zM2693 870h45v2h-45zM2741 870h60v2h-60zM2804 870h24v2h-24zM2831 870h72v2h-72zM2906 870h153v2h-153zM3062 870h150v2h-150zM3215 870h420v2h-420zM266 872h12v2h-12zM281 872h9v2h-9zM296 872h3v2h-3zM302 872h6v2h-6zM317 872h9v2h-9zM329 872h15v2h-15zM347 872h6v2h-6zM356 872h3v2h-3zM368 872h6v2h-6zM377 872h3v2h-3zM383 872h12v2h-12zM398 872h3v2h-3zM404 872h18v2h-18zM428 872h3v2h-3zM434 872h15v2h-15zM455 872h6v2h-6zM464 872h9v2h-9zM479 872h9v2h-9zM491 872h18v2h-18zM515 872h18v2h-18zM536 872h3v2h-3zM542 872h15v2h-15zM563 872h15v2h-15zM584 872h24v2h-24zM611 872h15v2h-15zM629 872h12v2h-12zM644 872h9v2h-9zM656 872h12v2h-12zM674 872h21v2h-21zM698 872h18v2h-18zM719 872h9v2h-9zM731 872h12v2h-12zM746 872h42v2h-42zM791 872h33v2h-33zM827 872h9v2h-9zM839 872h6v2h-6zM848 872h3v2h-3zM854 872h9v2h-9zM866 872h9v2h-9zM881 872h21v2h-21zM905 872h6v2h-6zM914 872h3v2h-3zM920 872h3v2h-3zM926 872h15v2h-15zM947 872h6v2h-6zM956 872h3v2h-3zM962 872h9v2h-9zM977 872h3v2h-3zM983 872h9v2h-9zM1001 872h6v2h-6zM1010 872h3v2h-3zM1016 872h15v2h-15zM1049 872h12v2h-12zM1064 872h3v2h-3zM1079 872h6v2h-6zM1088 872h3v2h-3zM1094 872h3v2h-3zM1103 872h6v2h-6zM1112 872h3v2h-3zM1118 872h3v2h-3zM1130 872h3v2h-3zM1136 872h3v2h-3zM1142 872h3v2h-3zM1151 872h3v2h-3zM1157 872h3v2h-3zM1163 872h12v2h-12zM1178 872h3v2h-3zM1187 872h9v2h-9zM1199 872h9v2h-9zM1223 872h6v2h-6zM1232 872h3v2h-3zM1238 872h3v2h-3zM1247 872h3v2h-3zM1256 872h3v2h-3zM1262 872h3v2h-3zM1271 872h6v2h-6zM1283 872h3v2h-3zM1289 872h9v2h-9zM1304 872h3v2h-3zM1313 872h3v2h-3zM1322 872h6v2h-6zM1334 872h9v2h-9zM1349 872h3v2h-3zM1361 872h9v2h-9zM1382 872h3v2h-3zM1391 872h6v2h-6zM1403 872h3v2h-3zM1409 872h6v2h-6zM1421 872h6v2h-6zM1439 872h15v2h-15zM1457 872h3v2h-3zM1478 872h3v2h-3zM1484 872h3v2h-3zM1490 872h12v2h-12zM1505 872h3v2h-3zM1514 872h6v2h-6zM1535 872h15v2h-15zM1553 872h3v2h-3zM1565 872h6v2h-6zM1583 872h3v2h-3zM1589 872h9v2h-9zM1616 872h3v2h-3zM1622 872h15v2h-15zM1643 872h6v2h-6zM1664 872h9v2h-9zM1688 872h3v2h-3zM1700 872h3v2h-3zM1718 872h3v2h-3zM1724 872h15v2h-15zM1742 872h6v2h-6zM1751 872h6v2h-6zM1763 872h3v2h-3zM1769 872h3v2h-3zM1781 872h3v2h-3zM1787 872h6v2h-6zM1796 872h6v2h-6zM1808 872h3v2h-3zM1817 872h3v2h-3zM1823 872h3v2h-3zM1829 872h3v2h-3zM1841 872h18v2h-18zM1862 872h3v2h-3zM1868 872h3v2h-3zM1874 872h6v2h-6zM1886 872h3v2h-3zM1898 872h3v2h-3zM1907 872h9v2h-9zM1922 872h3v2h-3zM1928 872h6v2h-6zM1940 872h3v2h-3zM1955 872h9v2h-9zM1967 872h3v2h-3zM1973 872h6v2h-6zM1997 872h3v2h-3zM2009 872h15v2h-15zM2027 872h3v2h-3zM2036 872h6v2h-6zM2045 872h3v2h-3zM2057 872h3v2h-3zM2063 872h3v2h-3zM2069 872h12v2h-12zM2084 872h54v2h-54zM2141 872h30v2h-30zM2174 872h12v2h-12zM2189 872h27v2h-27zM2219 872h24v2h-24zM2249 872h18v2h-18zM2270 872h3v2h-3zM2276 872h3v2h-3zM2282 872h15v2h-15zM2300 872h3v2h-3zM2309 872h48v2h-48zM2363 872h3v2h-3zM2369 872h6v2h-6zM2378 872h15v2h-15zM2396 872h45v2h-45zM2444 872h12v2h-12zM2459 872h24v2h-24zM2486 872h141v2h-141zM2630 872h57v2h-57zM2690 872h72v2h-72zM2765 872h90v2h-90zM2858 872h42v2h-42zM2903 872h144v2h-144zM3050 872h63v2h-63zM3116 872h78v2h-78zM3197 872h255v2h-255zM3455 872h3v2h-3zM3461 872h75v2h-75zM3539 872h60v2h-60zM3602 872h35v2h-35zM266 874h21v2h-21zM293 874h6v2h-6zM305 874h6v2h-6zM314 874h3v2h-3zM320 874h6v2h-6zM332 874h24v2h-24zM359 874h3v2h-3zM365 874h9v2h-9zM377 874h24v2h-24zM404 874h15v2h-15zM422 874h9v2h-9zM437 874h3v2h-3zM443 874h42v2h-42zM491 874h57v2h-57zM551 874h9v2h-9zM563 874h75v2h-75zM641 874h6v2h-6zM650 874h111v2h-111zM764 874h6v2h-6zM773 874h48v2h-48zM824 874h6v2h-6zM833 874h12v2h-12zM848 874h27v2h-27zM878 874h21v2h-21zM902 874h6v2h-6zM911 874h27v2h-27zM941 874h9v2h-9zM953 874h3v2h-3zM959 874h6v2h-6zM971 874h6v2h-6zM980 874h3v2h-3zM986 874h6v2h-6zM995 874h9v2h-9zM1010 874h6v2h-6zM1022 874h6v2h-6zM1034 874h3v2h-3zM1040 874h9v2h-9zM1055 874h6v2h-6zM1064 874h6v2h-6zM1073 874h6v2h-6zM1085 874h12v2h-12zM1103 874h6v2h-6zM1112 874h3v2h-3zM1118 874h6v2h-6zM1127 874h6v2h-6zM1139 874h9v2h-9zM1151 874h3v2h-3zM1166 874h3v2h-3zM1172 874h3v2h-3zM1178 874h6v2h-6zM1187 874h3v2h-3zM1196 874h3v2h-3zM1208 874h3v2h-3zM1214 874h12v2h-12zM1232 874h3v2h-3zM1244 874h6v2h-6zM1253 874h3v2h-3zM1268 874h15v2h-15zM1286 874h3v2h-3zM1316 874h6v2h-6zM1325 874h6v2h-6zM1334 874h3v2h-3zM1343 874h18v2h-18zM1373 874h3v2h-3zM1379 874h3v2h-3zM1388 874h9v2h-9zM1403 874h3v2h-3zM1412 874h9v2h-9zM1427 874h3v2h-3zM1433 874h6v2h-6zM1448 874h9v2h-9zM1460 874h3v2h-3zM1472 874h3v2h-3zM1481 874h3v2h-3zM1490 874h6v2h-6zM1505 874h9v2h-9zM1517 874h9v2h-9zM1529 874h3v2h-3zM1535 874h12v2h-12zM1559 874h6v2h-6zM1568 874h6v2h-6zM1577 874h6v2h-6zM1586 874h3v2h-3zM1601 874h6v2h-6zM1610 874h9v2h-9zM1625 874h6v2h-6zM1634 874h3v2h-3zM1640 874h6v2h-6zM1652 874h9v2h-9zM1664 874h9v2h-9zM1676 874h6v2h-6zM1685 874h3v2h-3zM1694 874h3v2h-3zM1700 874h6v2h-6zM1709 874h3v2h-3zM1718 874h9v2h-9zM1733 874h9v2h-9zM1748 874h6v2h-6zM1757 874h6v2h-6zM1766 874h6v2h-6zM1781 874h6v2h-6zM1790 874h3v2h-3zM1799 874h6v2h-6zM1811 874h3v2h-3zM1817 874h9v2h-9zM1829 874h9v2h-9zM1841 874h6v2h-6zM1850 874h3v2h-3zM1856 874h3v2h-3zM1862 874h3v2h-3zM1868 874h3v2h-3zM1877 874h3v2h-3zM1883 874h6v2h-6zM1904 874h3v2h-3zM1916 874h6v2h-6zM1937 874h3v2h-3zM1946 874h3v2h-3zM1952 874h3v2h-3zM1958 874h3v2h-3zM1964 874h3v2h-3zM1970 874h3v2h-3zM1976 874h3v2h-3zM1985 874h3v2h-3zM1997 874h3v2h-3zM2003 874h3v2h-3zM2012 874h3v2h-3zM2018 874h12v2h-12zM2033 874h45v2h-45zM2081 874h27v2h-27zM2111 874h6v2h-6zM2120 874h117v2h-117zM2240 874h12v2h-12zM2255 874h12v2h-12zM2270 874h189v2h-189zM2462 874h63v2h-63zM2531 874h12v2h-12zM2546 874h291v2h-291zM2840 874h105v2h-105zM2948 874h141v2h-141zM3092 874h12v2h-12zM3107 874h159v2h-159zM3269 874h45v2h-45zM3317 874h165v2h-165zM3485 874h90v2h-90zM3578 874h18v2h-18zM3599 874h9v2h-9zM3611 874h26v2h-26zM266 876h249v2h-249zM518 876h102v2h-102zM623 876h153v2h-153zM779 876h141v2h-141zM923 876h6v2h-6zM932 876h51v2h-51zM986 876h3v2h-3zM992 876h9v2h-9zM1004 876h6v2h-6zM1016 876h9v2h-9zM1028 876h6v2h-6zM1037 876h6v2h-6zM1046 876h9v2h-9zM1061 876h9v2h-9zM1073 876h3v2h-3zM1088 876h18v2h-18zM1118 876h6v2h-6zM1127 876h6v2h-6zM1142 876h9v2h-9zM1160 876h3v2h-3zM1169 876h9v2h-9zM1181 876h6v2h-6zM1190 876h3v2h-3zM1196 876h3v2h-3zM1202 876h9v2h-9zM1220 876h9v2h-9zM1235 876h6v2h-6zM1244 876h3v2h-3zM1259 876h3v2h-3zM1295 876h3v2h-3zM1301 876h3v2h-3zM1307 876h27v2h-27zM1337 876h3v2h-3zM1343 876h9v2h-9zM1361 876h6v2h-6zM1370 876h18v2h-18zM1400 876h3v2h-3zM1409 876h3v2h-3zM1418 876h9v2h-9zM1430 876h3v2h-3zM1436 876h6v2h-6zM1451 876h6v2h-6zM1460 876h6v2h-6zM1469 876h3v2h-3zM1478 876h9v2h-9zM1490 876h12v2h-12zM1526 876h12v2h-12zM1541 876h3v2h-3zM1547 876h3v2h-3zM1556 876h3v2h-3zM1565 876h3v2h-3zM1571 876h3v2h-3zM1580 876h3v2h-3zM1586 876h3v2h-3zM1598 876h9v2h-9zM1613 876h3v2h-3zM1631 876h6v2h-6zM1640 876h6v2h-6zM1652 876h9v2h-9zM1673 876h6v2h-6zM1682 876h3v2h-3zM1697 876h6v2h-6zM1706 876h3v2h-3zM1715 876h6v2h-6zM1733 876h6v2h-6zM1742 876h39v2h-39zM1784 876h9v2h-9zM1799 876h24v2h-24zM1826 876h6v2h-6zM1835 876h3v2h-3zM1850 876h9v2h-9zM1862 876h21v2h-21zM1886 876h3v2h-3zM1892 876h9v2h-9zM1907 876h21v2h-21zM1931 876h6v2h-6zM1940 876h15v2h-15zM1958 876h3v2h-3zM1964 876h12v2h-12zM1982 876h3v2h-3zM1988 876h3v2h-3zM1994 876h9v2h-9zM2006 876h3v2h-3zM2018 876h9v2h-9zM2033 876h3v2h-3zM2045 876h15v2h-15zM2066 876h12v2h-12zM2081 876h9v2h-9zM2093 876h33v2h-33zM2132 876h27v2h-27zM2162 876h12v2h-12zM2177 876h12v2h-12zM2192 876h6v2h-6zM2201 876h18v2h-18zM2222 876h9v2h-9zM2237 876h54v2h-54zM2294 876h42v2h-42zM2339 876h69v2h-69zM2411 876h72v2h-72zM2486 876h282v2h-282zM2771 876h30v2h-30zM2804 876h114v2h-114zM2921 876h9v2h-9zM2933 876h537v2h-537zM3473 876h63v2h-63zM3539 876h72v2h-72zM3614 876h23v2h-23zM266 878h120v2h-120zM389 878h39v2h-39zM431 878h15v2h-15zM449 878h159v2h-159zM611 878h54v2h-54zM668 878h93v2h-93zM764 878h6v2h-6zM773 878h51v2h-51zM827 878h153v2h-153zM983 878h6v2h-6zM992 878h15v2h-15zM1013 878h9v2h-9zM1028 878h3v2h-3zM1034 878h6v2h-6zM1043 878h3v2h-3zM1052 878h6v2h-6zM1067 878h15v2h-15zM1085 878h3v2h-3zM1100 878h3v2h-3zM1106 878h3v2h-3zM1115 878h3v2h-3zM1121 878h9v2h-9zM1133 878h3v2h-3zM1139 878h6v2h-6zM1148 878h6v2h-6zM1175 878h3v2h-3zM1181 878h3v2h-3zM1187 878h6v2h-6zM1196 878h3v2h-3zM1202 878h6v2h-6zM1214 878h6v2h-6zM1223 878h6v2h-6zM1235 878h15v2h-15zM1253 878h3v2h-3zM1262 878h3v2h-3zM1271 878h3v2h-3zM1280 878h3v2h-3zM1289 878h27v2h-27zM1319 878h3v2h-3zM1331 878h3v2h-3zM1337 878h3v2h-3zM1346 878h9v2h-9zM1358 878h3v2h-3zM1364 878h3v2h-3zM1373 878h3v2h-3zM1382 878h3v2h-3zM1391 878h9v2h-9zM1409 878h6v2h-6zM1421 878h3v2h-3zM1430 878h9v2h-9zM1445 878h3v2h-3zM1451 878h3v2h-3zM1457 878h9v2h-9zM1472 878h3v2h-3zM1478 878h6v2h-6zM1487 878h3v2h-3zM1496 878h3v2h-3zM1505 878h3v2h-3zM1514 878h9v2h-9zM1526 878h12v2h-12zM1541 878h3v2h-3zM1553 878h3v2h-3zM1559 878h9v2h-9zM1571 878h9v2h-9zM1583 878h3v2h-3zM1589 878h6v2h-6zM1598 878h12v2h-12zM1622 878h6v2h-6zM1631 878h3v2h-3zM1637 878h3v2h-3zM1646 878h12v2h-12zM1664 878h6v2h-6zM1676 878h9v2h-9zM1691 878h3v2h-3zM1697 878h9v2h-9zM1712 878h3v2h-3zM1718 878h12v2h-12zM1736 878h9v2h-9zM1751 878h3v2h-3zM1760 878h6v2h-6zM1775 878h6v2h-6zM1784 878h18v2h-18zM1808 878h9v2h-9zM1823 878h6v2h-6zM1832 878h3v2h-3zM1841 878h9v2h-9zM1853 878h3v2h-3zM1859 878h6v2h-6zM1871 878h12v2h-12zM1886 878h3v2h-3zM1892 878h6v2h-6zM1910 878h12v2h-12zM1925 878h9v2h-9zM1937 878h15v2h-15zM1955 878h9v2h-9zM1967 878h12v2h-12zM1994 878h12v2h-12zM2012 878h9v2h-9zM2024 878h12v2h-12zM2039 878h75v2h-75zM2117 878h12v2h-12zM2132 878h9v2h-9zM2144 878h3v2h-3zM2153 878h6v2h-6zM2162 878h18v2h-18zM2183 878h12v2h-12zM2198 878h12v2h-12zM2216 878h39v2h-39zM2258 878h24v2h-24zM2285 878h261v2h-261zM2549 878h267v2h-267zM2819 878h27v2h-27zM2849 878h69v2h-69zM2921 878h12v2h-12zM2936 878h603v2h-603zM3542 878h42v2h-42zM3587 878h50v2h-50zM266 880h21v2h-21zM290 880h162v2h-162zM455 880h18v2h-18zM476 880h3v2h-3zM482 880h18v2h-18zM503 880h123v2h-123zM629 880h66v2h-66zM698 880h6v2h-6zM707 880h66v2h-66zM776 880h9v2h-9zM788 880h48v2h-48zM839 880h54v2h-54zM896 880h54v2h-54zM953 880h24v2h-24zM980 880h3v2h-3zM986 880h9v2h-9zM998 880h12v2h-12zM1022 880h3v2h-3zM1028 880h3v2h-3zM1034 880h3v2h-3zM1043 880h3v2h-3zM1049 880h6v2h-6zM1058 880h12v2h-12zM1073 880h12v2h-12zM1088 880h3v2h-3zM1106 880h12v2h-12zM1121 880h6v2h-6zM1130 880h15v2h-15zM1148 880h3v2h-3zM1157 880h3v2h-3zM1163 880h3v2h-3zM1175 880h3v2h-3zM1181 880h3v2h-3zM1187 880h12v2h-12zM1208 880h12v2h-12zM1238 880h3v2h-3zM1247 880h9v2h-9zM1259 880h3v2h-3zM1277 880h3v2h-3zM1292 880h3v2h-3zM1298 880h3v2h-3zM1304 880h12v2h-12zM1319 880h9v2h-9zM1343 880h3v2h-3zM1349 880h3v2h-3zM1361 880h6v2h-6zM1370 880h6v2h-6zM1385 880h24v2h-24zM1415 880h3v2h-3zM1424 880h6v2h-6zM1436 880h6v2h-6zM1445 880h15v2h-15zM1481 880h3v2h-3zM1487 880h12v2h-12zM1505 880h9v2h-9zM1520 880h3v2h-3zM1526 880h3v2h-3zM1532 880h3v2h-3zM1541 880h6v2h-6zM1550 880h9v2h-9zM1565 880h3v2h-3zM1574 880h3v2h-3zM1583 880h6v2h-6zM1592 880h3v2h-3zM1601 880h27v2h-27zM1634 880h6v2h-6zM1646 880h3v2h-3zM1652 880h9v2h-9zM1664 880h3v2h-3zM1670 880h6v2h-6zM1682 880h6v2h-6zM1691 880h3v2h-3zM1703 880h9v2h-9zM1715 880h6v2h-6zM1724 880h9v2h-9zM1739 880h6v2h-6zM1754 880h15v2h-15zM1772 880h6v2h-6zM1784 880h6v2h-6zM1796 880h6v2h-6zM1808 880h9v2h-9zM1820 880h3v2h-3zM1829 880h3v2h-3zM1838 880h12v2h-12zM1853 880h6v2h-6zM1862 880h6v2h-6zM1874 880h6v2h-6zM1886 880h24v2h-24zM1913 880h3v2h-3zM1922 880h15v2h-15zM1940 880h6v2h-6zM1949 880h12v2h-12zM1964 880h3v2h-3zM1970 880h12v2h-12zM1988 880h3v2h-3zM1994 880h18v2h-18zM2015 880h3v2h-3zM2021 880h21v2h-21zM2045 880h6v2h-6zM2054 880h9v2h-9zM2066 880h33v2h-33zM2102 880h9v2h-9zM2114 880h114v2h-114zM2231 880h45v2h-45zM2279 880h84v2h-84zM2366 880h21v2h-21zM2390 880h414v2h-414zM2810 880h33v2h-33zM2846 880h9v2h-9zM2858 880h12v2h-12zM2873 880h57v2h-57zM2933 880h24v2h-24zM2960 880h600v2h-600zM3563 880h21v2h-21zM3587 880h50v2h-50zM266 882h9v2h-9zM278 882h27v2h-27zM308 882h54v2h-54zM365 882h9v2h-9zM377 882h210v2h-210zM590 882h150v2h-150zM743 882h102v2h-102zM848 882h57v2h-57zM908 882h87v2h-87zM1004 882h3v2h-3zM1013 882h3v2h-3zM1022 882h3v2h-3zM1028 882h6v2h-6zM1037 882h21v2h-21zM1070 882h15v2h-15zM1088 882h9v2h-9zM1106 882h3v2h-3zM1112 882h3v2h-3zM1118 882h3v2h-3zM1124 882h6v2h-6zM1133 882h3v2h-3zM1139 882h6v2h-6zM1148 882h6v2h-6zM1160 882h3v2h-3zM1166 882h6v2h-6zM1184 882h6v2h-6zM1193 882h3v2h-3zM1202 882h3v2h-3zM1208 882h3v2h-3zM1214 882h3v2h-3zM1223 882h3v2h-3zM1229 882h9v2h-9zM1247 882h12v2h-12zM1277 882h12v2h-12zM1295 882h6v2h-6zM1304 882h6v2h-6zM1313 882h6v2h-6zM1322 882h3v2h-3zM1337 882h3v2h-3zM1349 882h3v2h-3zM1355 882h12v2h-12zM1370 882h3v2h-3zM1376 882h12v2h-12zM1394 882h6v2h-6zM1406 882h9v2h-9zM1421 882h12v2h-12zM1436 882h3v2h-3zM1442 882h12v2h-12zM1457 882h9v2h-9zM1475 882h3v2h-3zM1481 882h3v2h-3zM1490 882h15v2h-15zM1511 882h9v2h-9zM1523 882h15v2h-15zM1544 882h9v2h-9zM1556 882h3v2h-3zM1568 882h3v2h-3zM1580 882h3v2h-3zM1586 882h3v2h-3zM1592 882h3v2h-3zM1598 882h3v2h-3zM1604 882h3v2h-3zM1610 882h9v2h-9zM1622 882h12v2h-12zM1640 882h15v2h-15zM1658 882h3v2h-3zM1667 882h3v2h-3zM1673 882h6v2h-6zM1682 882h21v2h-21zM1706 882h6v2h-6zM1715 882h6v2h-6zM1724 882h18v2h-18zM1745 882h3v2h-3zM1751 882h6v2h-6zM1760 882h9v2h-9zM1772 882h12v2h-12zM1787 882h3v2h-3zM1793 882h6v2h-6zM1805 882h15v2h-15zM1835 882h3v2h-3zM1841 882h3v2h-3zM1850 882h6v2h-6zM1859 882h6v2h-6zM1868 882h6v2h-6zM1880 882h6v2h-6zM1889 882h12v2h-12zM1910 882h9v2h-9zM1922 882h3v2h-3zM1928 882h3v2h-3zM1934 882h3v2h-3zM1940 882h6v2h-6zM1949 882h3v2h-3zM1958 882h9v2h-9zM1970 882h6v2h-6zM1979 882h3v2h-3zM1985 882h3v2h-3zM1991 882h3v2h-3zM1997 882h6v2h-6zM2006 882h21v2h-21zM2030 882h60v2h-60zM2093 882h264v2h-264zM2360 882h69v2h-69zM2432 882h384v2h-384zM2819 882h66v2h-66zM2888 882h749v2h-749zM266 884h69v2h-69zM338 884h126v2h-126zM467 884h60v2h-60zM530 884h27v2h-27zM560 884h93v2h-93zM656 884h333v2h-333zM992 884h3v2h-3zM998 884h18v2h-18zM1019 884h6v2h-6zM1028 884h6v2h-6zM1037 884h6v2h-6zM1046 884h27v2h-27zM1076 884h9v2h-9zM1088 884h9v2h-9zM1103 884h3v2h-3zM1109 884h9v2h-9zM1130 884h12v2h-12zM1145 884h3v2h-3zM1157 884h9v2h-9zM1172 884h3v2h-3zM1178 884h6v2h-6zM1190 884h6v2h-6zM1199 884h9v2h-9zM1211 884h3v2h-3zM1217 884h3v2h-3zM1223 884h42v2h-42zM1271 884h3v2h-3zM1277 884h9v2h-9zM1292 884h12v2h-12zM1310 884h3v2h-3zM1316 884h6v2h-6zM1325 884h51v2h-51zM1379 884h3v2h-3zM1385 884h6v2h-6zM1394 884h3v2h-3zM1400 884h12v2h-12zM1415 884h6v2h-6zM1427 884h3v2h-3zM1433 884h6v2h-6zM1442 884h15v2h-15zM1460 884h3v2h-3zM1469 884h21v2h-21zM1493 884h3v2h-3zM1499 884h12v2h-12zM1514 884h15v2h-15zM1532 884h6v2h-6zM1541 884h24v2h-24zM1574 884h6v2h-6zM1586 884h9v2h-9zM1601 884h3v2h-3zM1610 884h3v2h-3zM1616 884h6v2h-6zM1625 884h9v2h-9zM1643 884h6v2h-6zM1652 884h12v2h-12zM1667 884h3v2h-3zM1673 884h12v2h-12zM1688 884h36v2h-36zM1730 884h3v2h-3zM1736 884h9v2h-9zM1754 884h3v2h-3zM1769 884h6v2h-6zM1778 884h15v2h-15zM1796 884h3v2h-3zM1802 884h15v2h-15zM1820 884h12v2h-12zM1835 884h12v2h-12zM1853 884h3v2h-3zM1859 884h3v2h-3zM1865 884h30v2h-30zM1898 884h6v2h-6zM1913 884h3v2h-3zM1919 884h15v2h-15zM1937 884h15v2h-15zM1955 884h18v2h-18zM1976 884h51v2h-51zM2030 884h3v2h-3zM2036 884h27v2h-27zM2066 884h45v2h-45zM2114 884h63v2h-63zM2180 884h33v2h-33zM2216 884h57v2h-57zM2276 884h66v2h-66zM2345 884h120v2h-120zM2468 884h408v2h-408zM2879 884h27v2h-27zM2909 884h27v2h-27zM2939 884h30v2h-30zM2972 884h665v2h-665zM266 886h42v2h-42zM311 886h66v2h-66zM380 886h87v2h-87zM470 886h138v2h-138zM611 886h225v2h-225zM839 886h156v2h-156zM1001 886h15v2h-15zM1019 886h3v2h-3zM1025 886h12v2h-12zM1040 886h9v2h-9zM1052 886h3v2h-3zM1064 886h6v2h-6zM1076 886h6v2h-6zM1085 886h3v2h-3zM1091 886h3v2h-3zM1103 886h3v2h-3zM1112 886h45v2h-45zM1166 886h24v2h-24zM1193 886h6v2h-6zM1202 886h6v2h-6zM1211 886h3v2h-3zM1223 886h30v2h-30zM1256 886h3v2h-3zM1262 886h3v2h-3zM1268 886h3v2h-3zM1274 886h3v2h-3zM1280 886h3v2h-3zM1289 886h12v2h-12zM1310 886h3v2h-3zM1316 886h18v2h-18zM1337 886h3v2h-3zM1343 886h3v2h-3zM1349 886h3v2h-3zM1358 886h6v2h-6zM1367 886h3v2h-3zM1376 886h6v2h-6zM1385 886h12v2h-12zM1403 886h3v2h-3zM1409 886h27v2h-27zM1439 886h9v2h-9zM1451 886h12v2h-12zM1466 886h12v2h-12zM1481 886h3v2h-3zM1487 886h9v2h-9zM1499 886h6v2h-6zM1508 886h12v2h-12zM1529 886h6v2h-6zM1538 886h9v2h-9zM1553 886h9v2h-9zM1565 886h3v2h-3zM1571 886h3v2h-3zM1577 886h3v2h-3zM1586 886h3v2h-3zM1592 886h27v2h-27zM1622 886h9v2h-9zM1634 886h6v2h-6zM1652 886h6v2h-6zM1676 886h6v2h-6zM1685 886h18v2h-18zM1706 886h12v2h-12zM1721 886h6v2h-6zM1730 886h6v2h-6zM1742 886h9v2h-9zM1754 886h12v2h-12zM1769 886h6v2h-6zM1778 886h3v2h-3zM1784 886h3v2h-3zM1793 886h6v2h-6zM1802 886h9v2h-9zM1814 886h6v2h-6zM1826 886h15v2h-15zM1859 886h24v2h-24zM1886 886h3v2h-3zM1892 886h9v2h-9zM1904 886h9v2h-9zM1919 886h9v2h-9zM1934 886h3v2h-3zM1940 886h3v2h-3zM1946 886h3v2h-3zM1955 886h6v2h-6zM1964 886h3v2h-3zM1970 886h9v2h-9zM1982 886h9v2h-9zM1994 886h15v2h-15zM2015 886h72v2h-72zM2090 886h21v2h-21zM2114 886h159v2h-159zM2276 886h132v2h-132zM2414 886h51v2h-51zM2468 886h1169v2h-1169zM269 888h267v2h-267zM539 888h141v2h-141zM683 888h18v2h-18zM707 888h252v2h-252zM962 888h39v2h-39zM1004 888h54v2h-54zM1061 888h18v2h-18zM1082 888h3v2h-3zM1088 888h27v2h-27zM1118 888h15v2h-15zM1142 888h3v2h-3zM1148 888h9v2h-9zM1163 888h3v2h-3zM1169 888h12v2h-12zM1184 888h9v2h-9zM1202 888h30v2h-30zM1235 888h21v2h-21zM1259 888h39v2h-39zM1301 888h3v2h-3zM1313 888h54v2h-54zM1370 888h6v2h-6zM1379 888h3v2h-3zM1385 888h6v2h-6zM1394 888h3v2h-3zM1400 888h15v2h-15zM1421 888h6v2h-6zM1430 888h3v2h-3zM1439 888h21v2h-21zM1463 888h3v2h-3zM1472 888h15v2h-15zM1490 888h27v2h-27zM1520 888h3v2h-3zM1526 888h9v2h-9zM1541 888h3v2h-3zM1550 888h6v2h-6zM1559 888h6v2h-6zM1568 888h6v2h-6zM1577 888h6v2h-6zM1586 888h12v2h-12zM1601 888h6v2h-6zM1610 888h9v2h-9zM1622 888h6v2h-6zM1631 888h18v2h-18zM1652 888h3v2h-3zM1658 888h6v2h-6zM1667 888h3v2h-3zM1676 888h6v2h-6zM1685 888h3v2h-3zM1694 888h9v2h-9zM1706 888h15v2h-15zM1730 888h9v2h-9zM1742 888h30v2h-30zM1778 888h9v2h-9zM1790 888h30v2h-30zM1826 888h39v2h-39zM1871 888h12v2h-12zM1886 888h3v2h-3zM1895 888h15v2h-15zM1913 888h15v2h-15zM1931 888h6v2h-6zM1940 888h24v2h-24zM1967 888h279v2h-279zM2249 888h51v2h-51zM2303 888h1334v2h-1334zM266 890h309v2h-309zM578 890h429v2h-429zM1010 890h39v2h-39zM1052 890h12v2h-12zM1067 890h3v2h-3zM1076 890h24v2h-24zM1103 890h3v2h-3zM1109 890h33v2h-33zM1145 890h18v2h-18zM1166 890h21v2h-21zM1190 890h3v2h-3zM1196 890h3v2h-3zM1202 890h30v2h-30zM1238 890h3v2h-3zM1244 890h9v2h-9zM1256 890h24v2h-24zM1283 890h6v2h-6zM1295 890h24v2h-24zM1325 890h3v2h-3zM1331 890h3v2h-3zM1340 890h3v2h-3zM1346 890h48v2h-48zM1397 890h12v2h-12zM1412 890h12v2h-12zM1433 890h78v2h-78zM1517 890h27v2h-27zM1547 890h3v2h-3zM1556 890h21v2h-21zM1580 890h21v2h-21zM1604 890h9v2h-9zM1616 890h3v2h-3zM1622 890h3v2h-3zM1628 890h3v2h-3zM1637 890h30v2h-30zM1670 890h18v2h-18zM1694 890h18v2h-18zM1715 890h3v2h-3zM1721 890h9v2h-9zM1733 890h36v2h-36zM1772 890h24v2h-24zM1799 890h9v2h-9zM1811 890h9v2h-9zM1829 890h3v2h-3zM1838 890h39v2h-39zM1883 890h69v2h-69zM1958 890h3v2h-3zM1964 890h48v2h-48zM2015 890h120v2h-120zM2138 890h78v2h-78zM2219 890h6v2h-6zM2228 890h117v2h-117zM2348 890h1289v2h-1289zM266 892h744v2h-744zM1013 892h30v2h-30zM1046 892h27v2h-27zM1076 892h12v2h-12zM1097 892h30v2h-30zM1130 892h6v2h-6zM1139 892h12v2h-12zM1157 892h3v2h-3zM1163 892h15v2h-15zM1181 892h18v2h-18zM1202 892h6v2h-6zM1214 892h27v2h-27zM1244 892h54v2h-54zM1304 892h27v2h-27zM1334 892h12v2h-12zM1352 892h9v2h-9zM1364 892h18v2h-18zM1385 892h3v2h-3zM1391 892h12v2h-12zM1406 892h33v2h-33zM1445 892h12v2h-12zM1460 892h30v2h-30zM1493 892h36v2h-36zM1532 892h12v2h-12zM1547 892h6v2h-6zM1556 892h15v2h-15zM1574 892h15v2h-15zM1592 892h15v2h-15zM1610 892h9v2h-9zM1622 892h12v2h-12zM1640 892h21v2h-21zM1664 892h9v2h-9zM1676 892h3v2h-3zM1682 892h12v2h-12zM1697 892h12v2h-12zM1712 892h3v2h-3zM1718 892h12v2h-12zM1733 892h15v2h-15zM1751 892h45v2h-45zM1799 892h15v2h-15zM1817 892h24v2h-24zM1844 892h21v2h-21zM1868 892h30v2h-30zM1901 892h6v2h-6zM1910 892h36v2h-36zM1949 892h24v2h-24zM1976 892h6v2h-6zM1985 892h72v2h-72zM2060 892h12v2h-12zM2075 892h69v2h-69zM2147 892h3v2h-3zM2153 892h15v2h-15zM2171 892h24v2h-24zM2198 892h9v2h-9zM2210 892h1427v2h-1427zM266 894h735v2h-735zM1004 894h33v2h-33zM1040 894h18v2h-18zM1061 894h9v2h-9zM1073 894h60v2h-60zM1136 894h12v2h-12zM1151 894h12v2h-12zM1169 894h12v2h-12zM1184 894h6v2h-6zM1193 894h42v2h-42zM1238 894h6v2h-6zM1247 894h3v2h-3zM1256 894h9v2h-9zM1268 894h18v2h-18zM1289 894h3v2h-3zM1295 894h6v2h-6zM1307 894h3v2h-3zM1313 894h15v2h-15zM1334 894h9v2h-9zM1346 894h87v2h-87zM1436 894h18v2h-18zM1457 894h84v2h-84zM1544 894h24v2h-24zM1571 894h21v2h-21zM1595 894h18v2h-18zM1616 894h9v2h-9zM1628 894h18v2h-18zM1649 894h3v2h-3zM1655 894h27v2h-27zM1685 894h24v2h-24zM1712 894h27v2h-27zM1742 894h114v2h-114zM1859 894h63v2h-63zM1925 894h18v2h-18zM1946 894h102v2h-102zM2051 894h18v2h-18zM2072 894h228v2h-228zM2303 894h6v2h-6zM2312 894h1325v2h-1325zM266 896h738v2h-738zM1007 896h192v2h-192zM1202 896h27v2h-27zM1232 896h33v2h-33zM1268 896h30v2h-30zM1301 896h102v2h-102zM1406 896h45v2h-45zM1454 896h6v2h-6zM1463 896h18v2h-18zM1484 896h6v2h-6zM1493 896h9v2h-9zM1505 896h36v2h-36zM1544 896h21v2h-21zM1568 896h15v2h-15zM1589 896h21v2h-21zM1613 896h6v2h-6zM1622 896h6v2h-6zM1631 896h102v2h-102zM1736 896h6v2h-6zM1748 896h138v2h-138zM1889 896h147v2h-147zM2039 896h21v2h-21zM2063 896h1574v2h-1574zM266 898h759v2h-759zM1028 898h12v2h-12zM1043 898h387v2h-387zM1433 898h192v2h-192zM1628 898h54v2h-54zM1685 898h39v2h-39zM1727 898h78v2h-78zM1808 898h12v2h-12zM1823 898h96v2h-96zM1922 898h96v2h-96zM2021 898h15v2h-15zM2039 898h1598v2h-1598zM266 900h828v2h-828zM1097 900h102v2h-102zM1202 900h24v2h-24zM1229 900h51v2h-51zM1283 900h18v2h-18zM1304 900h117v2h-117zM1424 900h201v2h-201zM1628 900h174v2h-174zM1805 900h48v2h-48zM1856 900h159v2h-159zM2018 900h1619v2h-1619zM266 902h903v2h-903zM1172 902h75v2h-75zM1250 902h114v2h-114zM1367 902h78v2h-78zM1448 902h45v2h-45zM1496 902h129v2h-129zM1628 902h156v2h-156zM1787 902h48v2h-48zM1838 902h108v2h-108zM1949 902h12v2h-12zM1964 902h1673v2h-1673zM266 904h1335v2h-1335zM1604 904h102v2h-102zM1709 904h93v2h-93zM1805 904h30v2h-30zM1838 904h162v2h-162zM2003 904h1634v2h-1634zM266 906h1254v2h-1254zM1523 906h258v2h-258zM1784 906h39v2h-39zM1826 906h138v2h-138zM1967 906h12v2h-12zM1982 906h27v2h-27zM2012 906h1625v2h-1625zM266 908h924v2h-924zM1193 908h9v2h-9zM1205 908h60v2h-60zM1268 908h3v2h-3zM1274 908h18v2h-18zM1295 908h120v2h-120zM1418 908h81v2h-81zM1502 908h6v2h-6zM1511 908h366v2h-366zM1880 908h117v2h-117zM2000 908h1637v2h-1637zM266 910h858v2h-858zM1127 910h6v2h-6zM1136 910h36v2h-36zM1175 910h96v2h-96zM1274 910h39v2h-39zM1316 910h57v2h-57zM1379 910h132v2h-132zM1514 910h63v2h-63zM1580 910h69v2h-69zM1652 910h108v2h-108zM1763 910h1874v2h-1874zM266 912h873v2h-873zM1142 912h84v2h-84zM1229 912h69v2h-69zM1301 912h147v2h-147zM1451 912h132v2h-132zM1586 912h99v2h-99zM1688 912h1949v2h-1949zM266 914h1278v2h-1278zM1547 914h84v2h-84zM1634 914h36v2h-36zM1673 914h39v2h-39zM1715 914h27v2h-27zM1745 914h1892v2h-1892zM266 916h3371v2h-3371zM266 918h3371v2h-3371zM266 920h3371v2h-3371zM266 922h3371v2h-3371zM266 924h3371v2h-3371zM266 926h3371v2h-3371zM266 928h3371v2h-3371zM266 930h3371v2h-3371zM266 932h3371v2h-3371zM266 934h3371v2h-3371zM266 936h3371v2h-3371zM266 938h3371v2h-3371zM266 940h3371v2h-3371zM266 942h3371v2h-3371zM266 944h3371v2h-3371zM266 946h3371v2h-3371zM266 948h3371v2h-3371zM266 950h3371v2h-3371zM266 952h3371v2h-3371zM266 954h3371v2h-3371zM266 956h3371v2h-3371z"/>
<path fill="#fff" d="M1915 876h8v40l-1 6h-6l-1-6z"/>
<g fill="#ffb6c1"><rect x="1856" y="924" width="2" height="9"/><rect x="1900" y="922" width="1" height="7"/><rect x="1957" y="924" width="1" height="8"/></g>
<g fill="none" stroke="#000" stroke-width="4" stroke-linejoin="round" shape-rendering="crispEdges">
<polyline points="266.0,292.4 373.0,294.4 437.6,295.6 490.0,296.8 542.6,297.6 627.0,297.6 692.0,296.8 780.8,288.8 865.6,283.9 986.7,279.5 1107.8,275.0 1229.0,270.2 1300.0,270.2 1475.6,271.2 1562.0,271.7"/>
<polyline points="1667.5,272.6 1745.8,274.0 2272.0,275.0 2450.0,275.4 2751.0,279.8 2874.6,278.8 2991.0,276.9 3102.6,277.8 3190.0,279.8 3637.0,279.8"/>
<polyline points="266.0,430.3 371.0,433.5 470.0,434.7 615.0,435.5 787.0,434.7 873.6,433.5 1019.0,431.5 1200.7,429.5 1300.0,429.5 1466.0,429.3 1562.0,429.3"/>
<polyline points="1667.5,429.3 1829.6,431.2 1978.6,433.0 2160.0,434.0 2480.0,433.5 3342.8,434.0 3473.8,435.4 3637.0,435.9"/>
<polyline points="266.0,551.5 355.0,550.3 560.8,551.0 659.7,552.7 740.0,553.9 829.0,554.7 902.0,556.0 994.8,557.5 1099.7,560.0 1200.7,562.0 1300.0,562.2 1347.5,561.5 1562.0,562.0"/>
<polyline points="1667.5,562.0 1755.0,561.5 2071.8,561.0 2244.0,561.2 2332.6,560.0 2421.0,557.5 2561.6,555.4 2901.0,554.4 3071.0,552.5 3238.5,551.5 3637.0,551.5"/>
<polyline points="266.0,702.2 328.6,703.8 437.6,705.4 566.8,708.3 724.0,711.0 902.0,714.3 1095.7,717.1 1300.0,718.8 1457.0,716.3 1562.0,716.0"/>
<polyline points="1667.5,715.4 2118.4,716.3 2234.8,717.3 2450.0,719.3 2545.0,720.8 2673.0,722.2 2715.0,723.2 2811.0,723.2 2884.0,722.2 3127.0,720.8 3185.0,721.7 3250.0,722.7 3325.0,723.7 3432.0,724.6 3605.0,725.6 3637.0,724.8"/>
<polyline points="266.0,760.0 357.0,756.7 466.0,753.5 607.0,753.5 797.0,756.7 1067.4,758.3 1300.0,758.8 1489.6,761.0 1562.0,761.0"/>
<polyline points="1667.5,761.0 1806.0,759.2 2244.0,759.2 2450.0,758.6 2480.0,756.9 2680.0,756.9 2722.0,757.6 2765.0,759.0 2807.0,760.5 2846.0,761.5 2884.0,763.0 2920.0,764.0 2966.0,765.0 3020.0,766.0 3080.0,767.3 3280.0,767.3 3400.0,768.3 3530.0,769.3 3600.0,770.7 3637.0,771.7"/>
<polyline points="266.0,871.6 457.8,868.8 639.5,867.6 724.0,866.4 793.0,865.6 918.0,865.6 1035.0,867.2 1140.0,868.0 1237.0,869.6 1300.0,869.4 1562.0,869.5"/>
<polyline points="1667.5,869.9 1932.0,863.8 2211.5,856.9 2450.0,852.8 2751.0,845.0 2886.7,844.5 2959.5,845.0 3032.0,847.4 3357.0,849.4 3435.0,848.0 3637.0,847.4"/>
<polyline points="266.0,136.7 292.5,138.4 336.9,140.5 386.4,142.2 434.2,144.7 462.4,145.8 502.5,144.7 579.4,142.7 639.0,134.2 660.0,127.0 670.0,122.2 664.0,117.0 652.0,106.0"/>
<polyline points="266.0,201.8 280.0,202.6 288.0,205.5"/>
<polyline points="1620.0,108.4 1703.8,114.0 1768.0,118.6 1822.6,118.6 1876.0,116.0 1891.0,114.0 1900.0,106.0"/>
<polyline points="2720.0,108.5 2778.7,113.9 2866.7,122.0 2935.2,136.7 2981.0,138.6 3038.0,143.2 3077.0,144.8 3114.6,142.7 3122.7,138.3 3098.0,124.5 3090.0,122.8 3064.0,106.0"/>
<polyline points="2512.0,111.0 2528.0,112.0"/>
<polyline points="2534.0,111.0 2560.0,114.0"/>
</g>
</g>
<g fill="#000">
<rect x="263" y="109" width="6" height="851"/>
<rect x="263" y="954" width="3377" height="6"/>
<rect x="263" y="109.0" width="84" height="6"/>
<rect x="263" y="214.6" width="84" height="6"/>
<rect x="263" y="320.2" width="84" height="6"/>
<rect x="263" y="425.9" width="84" height="6"/>
<rect x="263" y="531.5" width="84" height="6"/>
<rect x="263" y="637.1" width="84" height="6"/>
<rect x="263" y="742.8" width="84" height="6"/>
<rect x="263" y="848.4" width="84" height="6"/>
<rect x="263.0" y="894" width="6" height="63"/>
<rect x="333.2" y="924" width="6" height="33"/>
<rect x="403.5" y="924" width="6" height="33"/>
<rect x="473.7" y="924" width="6" height="33"/>
<rect x="543.9" y="894" width="6" height="63"/>
<rect x="614.1" y="924" width="6" height="33"/>
<rect x="684.4" y="924" width="6" height="33"/>
<rect x="754.6" y="924" width="6" height="33"/>
<rect x="824.8" y="894" width="6" height="63"/>
<rect x="895.1" y="924" width="6" height="33"/>
<rect x="965.3" y="924" width="6" height="33"/>
<rect x="1035.5" y="924" width="6" height="33"/>
<rect x="1105.8" y="894" width="6" height="63"/>
<rect x="1176.0" y="924" width="6" height="33"/>
<rect x="1246.2" y="924" width="6" height="33"/>
<rect x="1316.4" y="924" width="6" height="33"/>
<rect x="1386.7" y="894" width="6" height="63"/>
<rect x="1456.9" y="924" width="6" height="33"/>
<rect x="1527.1" y="924" width="6" height="33"/>
<rect x="1597.4" y="924" width="6" height="33"/>
<rect x="1667.6" y="894" width="6" height="63"/>
<rect x="1737.8" y="924" width="6" height="33"/>
<rect x="1808.0" y="924" width="6" height="33"/>
<rect x="1878.3" y="924" width="6" height="33"/>
<rect x="1948.5" y="894" width="6" height="63"/>
<rect x="2018.7" y="924" width="6" height="33"/>
<rect x="2089.0" y="924" width="6" height="33"/>
<rect x="2159.2" y="924" width="6" height="33"/>
<rect x="2229.4" y="894" width="6" height="63"/>
<rect x="2299.6" y="924" width="6" height="33"/>
<rect x="2369.9" y="924" width="6" height="33"/>
<rect x="2440.1" y="924" width="6" height="33"/>
<rect x="2510.3" y="894" width="6" height="63"/>
<rect x="2580.6" y="924" width="6" height="33"/>
<rect x="2650.8" y="924" width="6" height="33"/>
<rect x="2721.0" y="924" width="6" height="33"/>
<rect x="2791.2" y="894" width="6" height="63"/>
<rect x="2861.5" y="924" width="6" height="33"/>
<rect x="2931.7" y="924" width="6" height="33"/>
<rect x="3001.9" y="924" width="6" height="33"/>
<rect x="3072.2" y="894" width="6" height="63"/>
<rect x="3142.4" y="924" width="6" height="33"/>
<rect x="3212.6" y="924" width="6" height="33"/>
<rect x="3282.9" y="924" width="6" height="33"/>
<rect x="3353.1" y="894" width="6" height="63"/>
<rect x="3423.3" y="924" width="6" height="33"/>
<rect x="3493.5" y="924" width="6" height="33"/>
<rect x="3563.8" y="924" width="6" height="33"/>
<rect x="3634.0" y="894" width="6" height="63"/>
</g>
<rect x="266" y="1144" width="3371" height="53" fill="url(#cb)"/>
<g fill="#000">
<rect x="263" y="1197" width="3377" height="6"/>
<rect x="263.0" y="1183" width="6" height="17"/>
<rect x="375.4" y="1190" width="6" height="10"/>
<rect x="487.7" y="1190" width="6" height="10"/>
<rect x="600.1" y="1190" width="6" height="10"/>
<rect x="712.5" y="1190" width="6" height="10"/>
<rect x="824.8" y="1190" width="6" height="10"/>
<rect x="937.2" y="1190" width="6" height="10"/>
<rect x="1049.6" y="1190" width="6" height="10"/>
<rect x="1161.9" y="1190" width="6" height="10"/>
<rect x="1274.3" y="1190" width="6" height="10"/>
<rect x="1386.7" y="1183" width="6" height="17"/>
<rect x="1499.0" y="1190" width="6" height="10"/>
<rect x="1611.4" y="1190" width="6" height="10"/>
<rect x="1723.8" y="1190" width="6" height="10"/>
<rect x="1836.1" y="1190" width="6" height="10"/>
<rect x="1948.5" y="1190" width="6" height="10"/>
<rect x="2060.9" y="1190" width="6" height="10"/>
<rect x="2173.2" y="1190" width="6" height="10"/>
<rect x="2285.6" y="1190" width="6" height="10"/>
<rect x="2398.0" y="1190" width="6" height="10"/>
<rect x="2510.3" y="1183" width="6" height="17"/>
<rect x="2622.7" y="1190" width="6" height="10"/>
<rect x="2735.1" y="1190" width="6" height="10"/>
<rect x="2847.4" y="1190" width="6" height="10"/>
<rect x="2959.8" y="1190" width="6" height="10"/>
<rect x="3072.2" y="1190" width="6" height="10"/>
<rect x="3184.5" y="1190" width="6" height="10"/>
<rect x="3296.9" y="1190" width="6" height="10"/>
<rect x="3409.3" y="1190" width="6" height="10"/>
<rect x="3521.6" y="1190" width="6" height="10"/>
<rect x="3634.0" y="1183" width="6" height="17"/>
</g>
<g fill="none" stroke="#000" stroke-width="6">
<rect x="666" y="1313" width="234" height="93"/>
<rect x="1378" y="1313" width="234" height="93"/>
<rect x="2328" y="1313" width="559" height="402"/>
</g>
<g fill="#f00" fill-rule="evenodd">
<path d="M2365,1364L2382,1394L2348,1394Z"/>
<path d="M2348,1460L2382,1460L2365,1490Z"/>
<path d="M2365,1537L2382,1567L2348,1567Z M2365,1548.6L2372.3,1560.7L2357.7,1560.7Z"/>
<path d="M2348,1633L2382,1633L2365,1663Z M2357.7,1638.9L2372.3,1638.9L2365,1651Z"/>
</g>
<path d="M2570,108Q2580,124 2590,108" fill="none" stroke="#000" stroke-width="5" clip-path="url(#pc)"/>
<g font-family='"Liberation Sans", sans-serif' fill="#000">
<text x="1409.50" y="77.00" font-size="99.07" textLength="1084.50" lengthAdjust="spacingAndGlyphs">Lampedusa: 2025/09/04</text>
<text x="84.00" y="136.60" font-size="69.83" textLength="148.10" lengthAdjust="spacingAndGlyphs">16.9</text>
<text x="85.60" y="241.52" font-size="69.83" textLength="145.40" lengthAdjust="spacingAndGlyphs">14.8</text>
<text x="83.00" y="348.20" font-size="68.81" textLength="148.50" lengthAdjust="spacingAndGlyphs">12.7</text>
<text x="83.00" y="452.20" font-size="68.84" textLength="147.50" lengthAdjust="spacingAndGlyphs">10.6</text>
<text x="84.60" y="558.90" font-size="71.57" textLength="145.40" lengthAdjust="spacingAndGlyphs">8.52</text>
<text x="85.00" y="664.20" font-size="68.84" textLength="146.50" lengthAdjust="spacingAndGlyphs">6.42</text>
<text x="87.00" y="769.20" font-size="68.84" textLength="144.50" lengthAdjust="spacingAndGlyphs">4.31</text>
<text x="85.00" y="876.20" font-size="68.81" textLength="146.50" lengthAdjust="spacingAndGlyphs">2.21</text>
<text x="84.50" y="981.90" font-size="71.00" textLength="146.60" lengthAdjust="spacingAndGlyphs">0.10</text>
<text x="242.80" y="1036.00" font-size="80.00" textLength="45.70" lengthAdjust="spacingAndGlyphs">0</text>
<text x="522.83" y="1036.50" font-size="80.73" textLength="48.00" lengthAdjust="spacingAndGlyphs">2</text>
<text x="807.17" y="1035.50" font-size="80.73" textLength="42.00" lengthAdjust="spacingAndGlyphs">4</text>
<text x="1084.50" y="1035.50" font-size="80.86" textLength="47.00" lengthAdjust="spacingAndGlyphs">6</text>
<text x="1366.83" y="1035.50" font-size="80.89" textLength="46.00" lengthAdjust="spacingAndGlyphs">8</text>
<text x="1620.57" y="1035.50" font-size="80.86" textLength="97.20" lengthAdjust="spacingAndGlyphs">10</text>
<text x="1901.90" y="1036.50" font-size="80.73" textLength="97.20" lengthAdjust="spacingAndGlyphs">12</text>
<text x="2183.23" y="1035.50" font-size="80.73" textLength="95.20" lengthAdjust="spacingAndGlyphs">14</text>
<text x="2463.57" y="1035.50" font-size="80.86" textLength="97.20" lengthAdjust="spacingAndGlyphs">16</text>
<text x="2743.90" y="1035.50" font-size="80.89" textLength="97.20" lengthAdjust="spacingAndGlyphs">18</text>
<text x="3028.23" y="1035.50" font-size="79.32" textLength="93.20" lengthAdjust="spacingAndGlyphs">20</text>
<text x="3308.57" y="1036.50" font-size="80.73" textLength="95.20" lengthAdjust="spacingAndGlyphs">22</text>
<text x="3590.50" y="1036.50" font-size="80.78" textLength="93.20" lengthAdjust="spacingAndGlyphs">24</text>
<text x="1739.00" y="1116.00" font-size="79.90" textLength="422.00" lengthAdjust="spacingAndGlyphs">Time (UTC)</text>
<text transform="translate(35.50,834.00) rotate(-90)" font-size="71.20" textLength="598.99" lengthAdjust="spacingAndGlyphs">Height AMSL (km)</text>
<text x="180.00" y="1261.50" font-size="61.60" textLength="155.00" lengthAdjust="spacingAndGlyphs">Clear</text>
<text x="1302.40" y="1261.50" font-size="61.60" textLength="177.30" lengthAdjust="spacingAndGlyphs">Water</text>
<text x="2470.60" y="1261.50" font-size="61.60" textLength="85.20" lengthAdjust="spacingAndGlyphs">Ice</text>
<text x="3553.60" y="1261.50" font-size="61.60" textLength="167.70" lengthAdjust="spacingAndGlyphs">Other</text>
<text x="2403.00" y="1404.40" font-size="57.40" textLength="352.70" lengthAdjust="spacingAndGlyphs">ACTRIS CBH</text>
<text x="2403.00" y="1491.00" font-size="57.40" textLength="347.30" lengthAdjust="spacingAndGlyphs">ACTRIS CTH</text>
<text x="2403.00" y="1577.60" font-size="57.40" textLength="445.20" lengthAdjust="spacingAndGlyphs">ACTRIS CBH BL</text>
<text x="2403.00" y="1664.20" font-size="57.40" textLength="440.50" lengthAdjust="spacingAndGlyphs">ACTRIS CTH BL</text>
<text x="1565.40" y="293.00" font-size="57.89" textLength="98.40" lengthAdjust="spacingAndGlyphs">210</text>
<text x="1565.40" y="450.60" font-size="55.74" textLength="98.40" lengthAdjust="spacingAndGlyphs">230</text>
<text x="1565.40" y="582.40" font-size="57.49" textLength="97.40" lengthAdjust="spacingAndGlyphs">250</text>
<text x="1565.40" y="735.20" font-size="52.13" textLength="98.40" lengthAdjust="spacingAndGlyphs">273</text>
<text x="1565.40" y="781.00" font-size="52.97" textLength="98.40" lengthAdjust="spacingAndGlyphs">279</text>
<text x="1565.40" y="890.40" font-size="57.49" textLength="97.40" lengthAdjust="spacingAndGlyphs">290</text>
</g>
</svg></body></html>
